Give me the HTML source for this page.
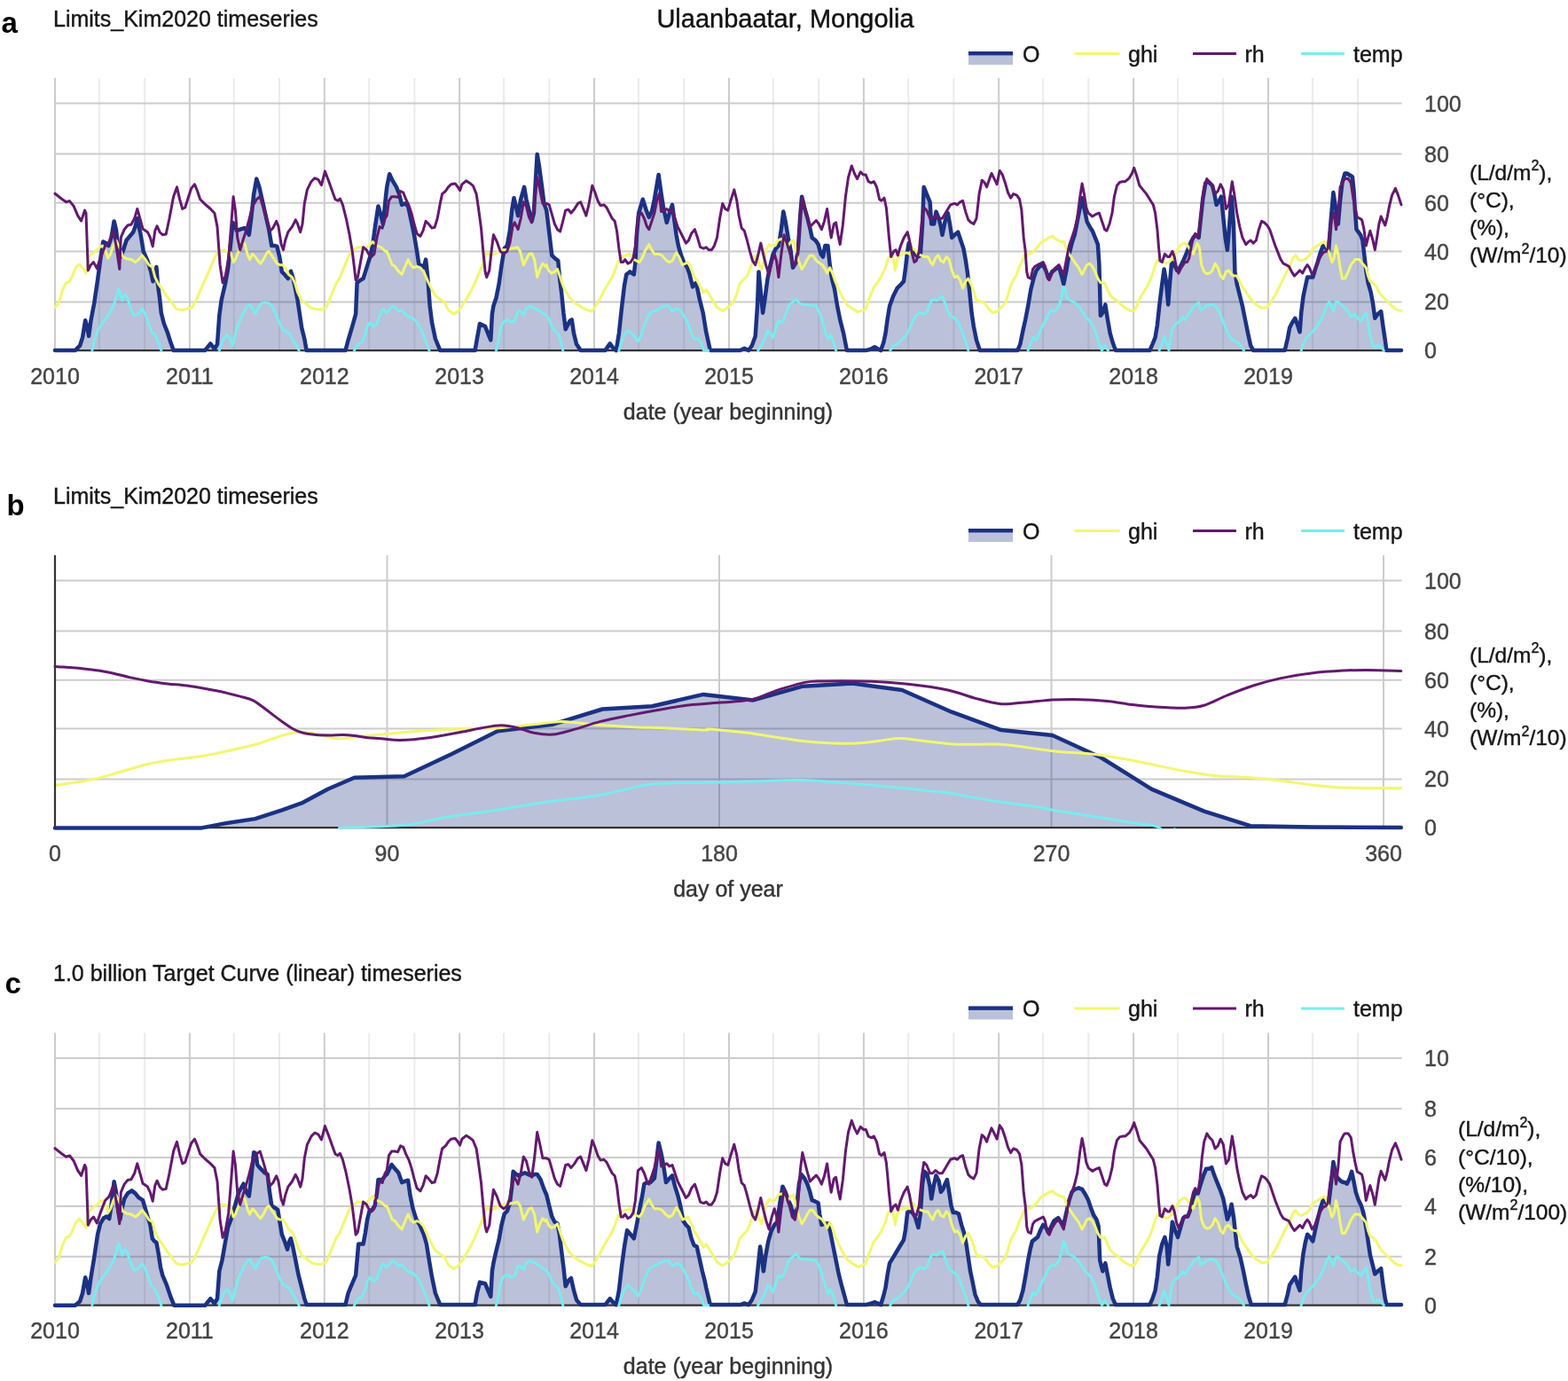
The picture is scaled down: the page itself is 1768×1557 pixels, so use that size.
<!DOCTYPE html><html><head><meta charset="utf-8"><style>html,body{margin:0;padding:0;background:#fff;overflow:hidden}svg{display:block}</style></head><body><svg width="1768" height="1557" viewBox="0 0 1768 1557" style="font-family:'Liberation Sans',Arial,sans-serif">
<rect width="1768" height="1557" fill="#fff"/>
<text x="885.5" y="31.0" font-size="29" text-anchor="middle" fill="#111" stroke="#111" stroke-width="0.4" font-weight="normal" >Ulaanbaatar, Mongolia</text>
<text x="1.5" y="36.7" font-size="33" text-anchor="start" fill="#000" stroke="#000" stroke-width="0" font-weight="bold" >a</text>
<text x="7.5" y="580.6" font-size="33" text-anchor="start" fill="#000" stroke="#000" stroke-width="0" font-weight="bold" >b</text>
<text x="5.5" y="1120.2" font-size="33" text-anchor="start" fill="#000" stroke="#000" stroke-width="0" font-weight="bold" >c</text>
<text x="60.0" y="29.5" font-size="25" text-anchor="start" fill="#161616" stroke="#161616" stroke-width="0.4" font-weight="normal" >Limits_Kim2020 timeseries</text>
<rect x="1092" y="62.5" width="50" height="10.5" fill="#1b3182" fill-opacity="0.3"/>
<rect x="1092" y="58" width="50" height="4.5" fill="#1b3182"/>
<text x="1153.0" y="69.5" font-size="25" text-anchor="start" fill="#161616" stroke="#161616" stroke-width="0.4" font-weight="normal" >O</text>
<line x1="1211.5" y1="60.5" x2="1262.5" y2="60.5" stroke="#f2f76e" stroke-width="3"/>
<text x="1272.0" y="69.5" font-size="25" text-anchor="start" fill="#161616" stroke="#161616" stroke-width="0.4" font-weight="normal" >ghi</text>
<line x1="1345" y1="60.5" x2="1394" y2="60.5" stroke="#63196e" stroke-width="3"/>
<text x="1403.5" y="69.5" font-size="25" text-anchor="start" fill="#161616" stroke="#161616" stroke-width="0.4" font-weight="normal" >rh</text>
<line x1="1467" y1="60.5" x2="1516" y2="60.5" stroke="#78ecf0" stroke-width="3"/>
<text x="1526.0" y="69.5" font-size="25" text-anchor="start" fill="#161616" stroke="#161616" stroke-width="0.4" font-weight="normal" >temp</text>
<line x1="111.9" y1="88" x2="111.9" y2="395.2" stroke="#ebebeb" stroke-width="2"/>
<line x1="163.1" y1="88" x2="163.1" y2="395.2" stroke="#ebebeb" stroke-width="2"/>
<line x1="263.8" y1="88" x2="263.8" y2="395.2" stroke="#ebebeb" stroke-width="2"/>
<line x1="315.0" y1="88" x2="315.0" y2="395.2" stroke="#ebebeb" stroke-width="2"/>
<line x1="416.2" y1="88" x2="416.2" y2="395.2" stroke="#ebebeb" stroke-width="2"/>
<line x1="467.4" y1="88" x2="467.4" y2="395.2" stroke="#ebebeb" stroke-width="2"/>
<line x1="568.1" y1="88" x2="568.1" y2="395.2" stroke="#ebebeb" stroke-width="2"/>
<line x1="619.3" y1="88" x2="619.3" y2="395.2" stroke="#ebebeb" stroke-width="2"/>
<line x1="720.0" y1="88" x2="720.0" y2="395.2" stroke="#ebebeb" stroke-width="2"/>
<line x1="771.2" y1="88" x2="771.2" y2="395.2" stroke="#ebebeb" stroke-width="2"/>
<line x1="871.9" y1="88" x2="871.9" y2="395.2" stroke="#ebebeb" stroke-width="2"/>
<line x1="923.1" y1="88" x2="923.1" y2="395.2" stroke="#ebebeb" stroke-width="2"/>
<line x1="1024.2" y1="88" x2="1024.2" y2="395.2" stroke="#ebebeb" stroke-width="2"/>
<line x1="1075.4" y1="88" x2="1075.4" y2="395.2" stroke="#ebebeb" stroke-width="2"/>
<line x1="1176.1" y1="88" x2="1176.1" y2="395.2" stroke="#ebebeb" stroke-width="2"/>
<line x1="1227.3" y1="88" x2="1227.3" y2="395.2" stroke="#ebebeb" stroke-width="2"/>
<line x1="1328.0" y1="88" x2="1328.0" y2="395.2" stroke="#ebebeb" stroke-width="2"/>
<line x1="1379.2" y1="88" x2="1379.2" y2="395.2" stroke="#ebebeb" stroke-width="2"/>
<line x1="1479.9" y1="88" x2="1479.9" y2="395.2" stroke="#ebebeb" stroke-width="2"/>
<line x1="1531.1" y1="88" x2="1531.1" y2="395.2" stroke="#ebebeb" stroke-width="2"/>
<line x1="62.0" y1="88" x2="62.0" y2="395.2" stroke="#cccccc" stroke-width="2"/>
<text x="62.0" y="433.0" font-size="25" text-anchor="middle" fill="#444444" stroke="#444444" stroke-width="0.4" font-weight="normal" >2010</text>
<line x1="213.9" y1="88" x2="213.9" y2="395.2" stroke="#cccccc" stroke-width="2"/>
<text x="213.9" y="433.0" font-size="25" text-anchor="middle" fill="#444444" stroke="#444444" stroke-width="0.4" font-weight="normal" >2011</text>
<line x1="365.8" y1="88" x2="365.8" y2="395.2" stroke="#cccccc" stroke-width="2"/>
<text x="365.8" y="433.0" font-size="25" text-anchor="middle" fill="#444444" stroke="#444444" stroke-width="0.4" font-weight="normal" >2012</text>
<line x1="518.1" y1="88" x2="518.1" y2="395.2" stroke="#cccccc" stroke-width="2"/>
<text x="518.1" y="433.0" font-size="25" text-anchor="middle" fill="#444444" stroke="#444444" stroke-width="0.4" font-weight="normal" >2013</text>
<line x1="670.0" y1="88" x2="670.0" y2="395.2" stroke="#cccccc" stroke-width="2"/>
<text x="670.0" y="433.0" font-size="25" text-anchor="middle" fill="#444444" stroke="#444444" stroke-width="0.4" font-weight="normal" >2014</text>
<line x1="822.0" y1="88" x2="822.0" y2="395.2" stroke="#cccccc" stroke-width="2"/>
<text x="822.0" y="433.0" font-size="25" text-anchor="middle" fill="#444444" stroke="#444444" stroke-width="0.4" font-weight="normal" >2015</text>
<line x1="973.9" y1="88" x2="973.9" y2="395.2" stroke="#cccccc" stroke-width="2"/>
<text x="973.9" y="433.0" font-size="25" text-anchor="middle" fill="#444444" stroke="#444444" stroke-width="0.4" font-weight="normal" >2016</text>
<line x1="1126.2" y1="88" x2="1126.2" y2="395.2" stroke="#cccccc" stroke-width="2"/>
<text x="1126.2" y="433.0" font-size="25" text-anchor="middle" fill="#444444" stroke="#444444" stroke-width="0.4" font-weight="normal" >2017</text>
<line x1="1278.1" y1="88" x2="1278.1" y2="395.2" stroke="#cccccc" stroke-width="2"/>
<text x="1278.1" y="433.0" font-size="25" text-anchor="middle" fill="#444444" stroke="#444444" stroke-width="0.4" font-weight="normal" >2018</text>
<line x1="1430.0" y1="88" x2="1430.0" y2="395.2" stroke="#cccccc" stroke-width="2"/>
<text x="1430.0" y="433.0" font-size="25" text-anchor="middle" fill="#444444" stroke="#444444" stroke-width="0.4" font-weight="normal" >2019</text>
<text x="1606.0" y="404.2" font-size="25" text-anchor="start" fill="#444444" stroke="#444444" stroke-width="0.4" font-weight="normal" >0</text>
<line x1="62.0" y1="340.4" x2="1580.5" y2="340.4" stroke="#cccccc" stroke-width="2"/>
<text x="1606.0" y="349.4" font-size="25" text-anchor="start" fill="#444444" stroke="#444444" stroke-width="0.4" font-weight="normal" >20</text>
<line x1="62.0" y1="283.5" x2="1580.5" y2="283.5" stroke="#cccccc" stroke-width="2"/>
<text x="1606.0" y="292.5" font-size="25" text-anchor="start" fill="#444444" stroke="#444444" stroke-width="0.4" font-weight="normal" >40</text>
<line x1="62.0" y1="228.7" x2="1580.5" y2="228.7" stroke="#cccccc" stroke-width="2"/>
<text x="1606.0" y="237.7" font-size="25" text-anchor="start" fill="#444444" stroke="#444444" stroke-width="0.4" font-weight="normal" >60</text>
<line x1="62.0" y1="173.6" x2="1580.5" y2="173.6" stroke="#cccccc" stroke-width="2"/>
<text x="1606.0" y="182.6" font-size="25" text-anchor="start" fill="#444444" stroke="#444444" stroke-width="0.4" font-weight="normal" >80</text>
<line x1="62.0" y1="116.6" x2="1580.5" y2="116.6" stroke="#cccccc" stroke-width="2"/>
<text x="1606.0" y="125.6" font-size="25" text-anchor="start" fill="#444444" stroke="#444444" stroke-width="0.4" font-weight="normal" >100</text>
<clipPath id="clip1"><rect x="0" y="0" width="1768" height="396.7"/></clipPath>
<path d="M62.0,395.2 L62.0,395.1 L84.7,395.1 L90.1,389.7 L93.1,380.4 L96.2,361.2 L98.2,368.1 L100.1,378.9 L102.4,361.9 L106.2,341.9 L110.1,315.7 L113.2,292.6 L116.3,272.5 L119.3,274.1 L122.4,277.1 L125.5,267.9 L128.6,249.4 L130.9,258.7 L133.7,283.3 L136.3,289.5 L138.6,283.3 L142.5,271.0 L146.3,266.4 L150.2,261.7 L152.5,255.6 L154.8,246.3 L158.7,264.8 L161.7,283.3 L166.4,294.1 L170.2,306.4 L172.5,317.2 L176.4,301.0 L177.9,320.3 L180.2,337.3 L181.8,352.7 L184.9,365.0 L188.7,374.3 L192.6,386.6 L195.6,395.1 L231.1,395.1 L237.3,387.4 L241.9,393.5 L245.0,388.1 L247.3,355.8 L249.6,338.8 L254.2,318.8 L257.0,303.4 L260.0,275.6 L262.4,250.9 L264.7,254.0 L267.0,260.2 L270.8,258.7 L275.5,257.1 L278.5,260.2 L280.8,264.8 L283.2,246.3 L286.2,218.6 L289.3,201.6 L292.4,210.9 L295.5,224.7 L299.3,241.7 L303.2,258.7 L306.3,277.1 L310.1,277.1 L312.4,277.9 L315.5,291.0 L317.8,306.4 L320.9,309.5 L324.8,314.1 L327.9,305.7 L330.2,312.6 L332.5,323.4 L335.6,338.8 L337.9,354.2 L340.2,369.6 L343.3,382.0 L345.6,395.1 L389.5,395.1 L392.6,383.5 L397.2,368.1 L401.1,354.2 L402.6,318.8 L406.5,315.7 L409.6,314.1 L413.4,301.8 L417.3,289.5 L420.3,275.6 L423.4,252.5 L426.5,232.4 L429.6,243.2 L431.9,252.5 L435.0,221.7 L436.2,210.9 L439.2,196.2 L442.3,203.2 L447.0,210.9 L450.0,218.6 L453.1,230.9 L457.0,229.4 L460.1,232.4 L463.1,246.3 L467.0,264.8 L470.1,283.3 L472.4,298.7 L475.5,299.5 L477.8,301.8 L480.1,292.6 L482.4,314.1 L484.7,345.0 L487.0,363.5 L490.9,382.0 L496.3,395.1 L535.6,395.1 L537.9,382.0 L541.0,365.0 L547.1,368.1 L550.2,375.8 L553.3,383.5 L554.9,354.2 L556.4,345.0 L559.5,335.7 L562.6,320.3 L565.6,298.7 L568.7,280.2 L571.8,277.1 L574.9,260.2 L577.2,237.1 L579.5,223.2 L581.8,232.4 L584.1,243.2 L587.2,224.7 L591.1,210.9 L593.4,224.7 L596.5,237.1 L599.6,249.4 L601.9,240.2 L604.2,198.5 L605.7,173.9 L608.0,187.7 L611.1,210.9 L613.4,229.4 L616.2,237.1 L619.2,261.7 L622.3,287.9 L625.4,291.0 L629.3,294.1 L630.8,311.1 L633.1,329.6 L635.4,352.7 L637.7,371.2 L642.4,361.9 L644.7,360.4 L647.0,375.8 L650.1,388.1 L654.7,395.1 L682.4,395.1 L687.8,387.4 L691.7,392.8 L694.8,395.1 L697.9,375.8 L700.9,348.1 L704.0,321.8 L706.3,309.5 L710.2,306.4 L714.8,309.5 L716.4,295.6 L717.9,264.8 L720.2,240.2 L724.8,224.7 L728.7,237.1 L731.8,244.8 L734.9,238.6 L737.9,224.7 L742.6,197.0 L745.6,218.6 L748.0,234.0 L751.8,250.9 L754.9,240.2 L758.0,230.9 L760.3,247.9 L762.6,264.8 L764.9,277.1 L768.0,287.9 L771.1,295.6 L774.9,301.8 L777.2,308.0 L781.1,323.4 L785.0,318.8 L788.8,337.3 L792.7,352.7 L796.2,374.3 L800.8,395.1 L834.7,395.1 L839.3,392.8 L843.9,395.1 L847.8,389.7 L851.7,378.9 L854.0,345.0 L855.5,306.4 L857.8,329.6 L860.1,352.7 L862.4,337.3 L865.5,314.1 L868.6,298.7 L871.7,286.4 L874.8,280.2 L877.9,277.1 L880.9,258.7 L883.3,238.6 L885.6,249.4 L888.7,267.9 L891.7,283.3 L894.0,301.8 L897.9,295.6 L900.2,275.6 L902.5,240.2 L904.1,221.7 L907.1,234.0 L910.2,244.8 L913.3,257.1 L915.6,267.9 L919.5,271.0 L922.6,275.6 L925.6,286.4 L928.0,289.5 L930.3,277.1 L933.4,277.1 L935.7,298.7 L938.0,314.1 L941.1,326.5 L944.1,345.0 L947.2,360.4 L951.1,375.8 L954.9,395.1 L976.2,395.1 L982.3,393.5 L986.2,391.2 L990.0,393.5 L993.1,395.1 L996.2,386.6 L998.5,375.8 L1000.8,358.8 L1003.1,345.0 L1007.0,334.2 L1011.6,324.9 L1016.2,320.3 L1019.0,317.2 L1020.9,303.4 L1023.2,283.3 L1024.7,274.1 L1027.0,280.2 L1030.1,284.9 L1034.7,289.5 L1037.8,287.9 L1040.1,252.5 L1041.7,210.9 L1044.8,218.6 L1048.6,227.8 L1050.2,252.5 L1053.2,252.5 L1055.5,238.6 L1058.6,246.3 L1060.9,255.6 L1062.5,264.8 L1065.6,249.4 L1068.7,240.2 L1071.0,252.5 L1073.3,267.9 L1076.4,264.8 L1080.2,261.7 L1083.3,271.0 L1086.4,280.2 L1088.7,292.6 L1091.0,308.0 L1093.3,329.6 L1095.6,352.7 L1097.9,368.1 L1101.0,383.5 L1104.9,395.1 L1147.3,395.1 L1150.3,388.1 L1153.4,372.7 L1156.2,360.4 L1159.2,345.0 L1162.3,326.5 L1165.4,314.1 L1168.5,304.9 L1172.4,300.3 L1176.2,298.7 L1179.3,304.9 L1182.4,314.1 L1186.2,306.4 L1190.1,303.4 L1193.9,300.3 L1196.2,308.0 L1199.3,320.3 L1202.4,304.9 L1205.5,286.4 L1208.6,274.1 L1211.7,264.8 L1214.7,249.4 L1217.8,234.0 L1220.1,223.2 L1222.4,234.0 L1225.5,249.4 L1228.6,255.6 L1231.7,260.2 L1234.8,267.9 L1237.9,275.6 L1239.4,298.7 L1240.9,355.8 L1243.3,352.7 L1246.3,343.4 L1248.7,358.8 L1251.7,375.8 L1254.8,386.6 L1257.9,395.1 L1296.4,395.1 L1299.5,388.1 L1302.6,380.4 L1304.9,366.6 L1307.2,345.0 L1310.3,320.3 L1312.6,303.4 L1314.9,317.2 L1317.2,343.4 L1318.8,321.8 L1321.1,295.6 L1324.2,298.7 L1327.3,304.9 L1330.3,301.8 L1333.4,295.6 L1336.2,289.5 L1339.2,281.8 L1342.3,274.1 L1345.4,267.9 L1348.5,264.8 L1351.6,267.9 L1353.9,246.3 L1356.2,224.7 L1359.3,206.2 L1362.4,204.7 L1367.0,209.3 L1369.3,218.6 L1371.6,230.9 L1374.7,226.3 L1377.0,221.7 L1379.3,244.8 L1381.6,267.9 L1383.9,281.8 L1386.3,252.5 L1388.6,221.7 L1390.9,252.5 L1392.4,306.4 L1394.7,320.3 L1397.8,332.6 L1400.9,345.0 L1404.0,360.4 L1407.1,375.8 L1410.2,389.7 L1413.2,395.1 L1448.7,395.1 L1451.8,382.0 L1454.1,369.6 L1457.2,363.5 L1460.3,358.8 L1462.6,365.0 L1465.6,374.3 L1467.2,352.7 L1469.5,334.2 L1471.8,323.4 L1474.1,312.6 L1477.2,312.6 L1480.3,312.6 L1482.6,304.9 L1485.7,295.6 L1488.8,284.9 L1491.8,277.1 L1495.7,280.2 L1498.0,283.3 L1500.3,252.5 L1503.4,217.0 L1506.5,237.1 L1508.8,252.5 L1511.1,226.3 L1513.4,206.2 L1516.4,195.5 L1518.7,195.5 L1524.9,199.3 L1526.4,213.9 L1527.9,237.1 L1529.5,258.7 L1534.1,264.8 L1536.4,271.0 L1538.7,291.0 L1540.3,304.9 L1542.6,318.8 L1545.7,329.6 L1548.0,341.9 L1550.3,358.8 L1553.4,354.2 L1557.2,351.1 L1559.5,368.1 L1561.8,383.5 L1563.4,395.1 L1580.0,395.1 L1580.0,395.2 Z" fill="#1b3182" fill-opacity="0.3" stroke="none"/>
<line x1="62.0" y1="395.2" x2="1580.5" y2="395.2" stroke="#333" stroke-width="2.2"/>
<path d="M62.0,395.1 L84.7,395.1 L90.1,389.7 L93.1,380.4 L96.2,361.2 L98.2,368.1 L100.1,378.9 L102.4,361.9 L106.2,341.9 L110.1,315.7 L113.2,292.6 L116.3,272.5 L119.3,274.1 L122.4,277.1 L125.5,267.9 L128.6,249.4 L130.9,258.7 L133.7,283.3 L136.3,289.5 L138.6,283.3 L142.5,271.0 L146.3,266.4 L150.2,261.7 L152.5,255.6 L154.8,246.3 L158.7,264.8 L161.7,283.3 L166.4,294.1 L170.2,306.4 L172.5,317.2 L176.4,301.0 L177.9,320.3 L180.2,337.3 L181.8,352.7 L184.9,365.0 L188.7,374.3 L192.6,386.6 L195.6,395.1 L231.1,395.1 L237.3,387.4 L241.9,393.5 L245.0,388.1 L247.3,355.8 L249.6,338.8 L254.2,318.8 L257.0,303.4 L260.0,275.6 L262.4,250.9 L264.7,254.0 L267.0,260.2 L270.8,258.7 L275.5,257.1 L278.5,260.2 L280.8,264.8 L283.2,246.3 L286.2,218.6 L289.3,201.6 L292.4,210.9 L295.5,224.7 L299.3,241.7 L303.2,258.7 L306.3,277.1 L310.1,277.1 L312.4,277.9 L315.5,291.0 L317.8,306.4 L320.9,309.5 L324.8,314.1 L327.9,305.7 L330.2,312.6 L332.5,323.4 L335.6,338.8 L337.9,354.2 L340.2,369.6 L343.3,382.0 L345.6,395.1 L389.5,395.1 L392.6,383.5 L397.2,368.1 L401.1,354.2 L402.6,318.8 L406.5,315.7 L409.6,314.1 L413.4,301.8 L417.3,289.5 L420.3,275.6 L423.4,252.5 L426.5,232.4 L429.6,243.2 L431.9,252.5 L435.0,221.7 L436.2,210.9 L439.2,196.2 L442.3,203.2 L447.0,210.9 L450.0,218.6 L453.1,230.9 L457.0,229.4 L460.1,232.4 L463.1,246.3 L467.0,264.8 L470.1,283.3 L472.4,298.7 L475.5,299.5 L477.8,301.8 L480.1,292.6 L482.4,314.1 L484.7,345.0 L487.0,363.5 L490.9,382.0 L496.3,395.1 L535.6,395.1 L537.9,382.0 L541.0,365.0 L547.1,368.1 L550.2,375.8 L553.3,383.5 L554.9,354.2 L556.4,345.0 L559.5,335.7 L562.6,320.3 L565.6,298.7 L568.7,280.2 L571.8,277.1 L574.9,260.2 L577.2,237.1 L579.5,223.2 L581.8,232.4 L584.1,243.2 L587.2,224.7 L591.1,210.9 L593.4,224.7 L596.5,237.1 L599.6,249.4 L601.9,240.2 L604.2,198.5 L605.7,173.9 L608.0,187.7 L611.1,210.9 L613.4,229.4 L616.2,237.1 L619.2,261.7 L622.3,287.9 L625.4,291.0 L629.3,294.1 L630.8,311.1 L633.1,329.6 L635.4,352.7 L637.7,371.2 L642.4,361.9 L644.7,360.4 L647.0,375.8 L650.1,388.1 L654.7,395.1 L682.4,395.1 L687.8,387.4 L691.7,392.8 L694.8,395.1 L697.9,375.8 L700.9,348.1 L704.0,321.8 L706.3,309.5 L710.2,306.4 L714.8,309.5 L716.4,295.6 L717.9,264.8 L720.2,240.2 L724.8,224.7 L728.7,237.1 L731.8,244.8 L734.9,238.6 L737.9,224.7 L742.6,197.0 L745.6,218.6 L748.0,234.0 L751.8,250.9 L754.9,240.2 L758.0,230.9 L760.3,247.9 L762.6,264.8 L764.9,277.1 L768.0,287.9 L771.1,295.6 L774.9,301.8 L777.2,308.0 L781.1,323.4 L785.0,318.8 L788.8,337.3 L792.7,352.7 L796.2,374.3 L800.8,395.1 L834.7,395.1 L839.3,392.8 L843.9,395.1 L847.8,389.7 L851.7,378.9 L854.0,345.0 L855.5,306.4 L857.8,329.6 L860.1,352.7 L862.4,337.3 L865.5,314.1 L868.6,298.7 L871.7,286.4 L874.8,280.2 L877.9,277.1 L880.9,258.7 L883.3,238.6 L885.6,249.4 L888.7,267.9 L891.7,283.3 L894.0,301.8 L897.9,295.6 L900.2,275.6 L902.5,240.2 L904.1,221.7 L907.1,234.0 L910.2,244.8 L913.3,257.1 L915.6,267.9 L919.5,271.0 L922.6,275.6 L925.6,286.4 L928.0,289.5 L930.3,277.1 L933.4,277.1 L935.7,298.7 L938.0,314.1 L941.1,326.5 L944.1,345.0 L947.2,360.4 L951.1,375.8 L954.9,395.1 L976.2,395.1 L982.3,393.5 L986.2,391.2 L990.0,393.5 L993.1,395.1 L996.2,386.6 L998.5,375.8 L1000.8,358.8 L1003.1,345.0 L1007.0,334.2 L1011.6,324.9 L1016.2,320.3 L1019.0,317.2 L1020.9,303.4 L1023.2,283.3 L1024.7,274.1 L1027.0,280.2 L1030.1,284.9 L1034.7,289.5 L1037.8,287.9 L1040.1,252.5 L1041.7,210.9 L1044.8,218.6 L1048.6,227.8 L1050.2,252.5 L1053.2,252.5 L1055.5,238.6 L1058.6,246.3 L1060.9,255.6 L1062.5,264.8 L1065.6,249.4 L1068.7,240.2 L1071.0,252.5 L1073.3,267.9 L1076.4,264.8 L1080.2,261.7 L1083.3,271.0 L1086.4,280.2 L1088.7,292.6 L1091.0,308.0 L1093.3,329.6 L1095.6,352.7 L1097.9,368.1 L1101.0,383.5 L1104.9,395.1 L1147.3,395.1 L1150.3,388.1 L1153.4,372.7 L1156.2,360.4 L1159.2,345.0 L1162.3,326.5 L1165.4,314.1 L1168.5,304.9 L1172.4,300.3 L1176.2,298.7 L1179.3,304.9 L1182.4,314.1 L1186.2,306.4 L1190.1,303.4 L1193.9,300.3 L1196.2,308.0 L1199.3,320.3 L1202.4,304.9 L1205.5,286.4 L1208.6,274.1 L1211.7,264.8 L1214.7,249.4 L1217.8,234.0 L1220.1,223.2 L1222.4,234.0 L1225.5,249.4 L1228.6,255.6 L1231.7,260.2 L1234.8,267.9 L1237.9,275.6 L1239.4,298.7 L1240.9,355.8 L1243.3,352.7 L1246.3,343.4 L1248.7,358.8 L1251.7,375.8 L1254.8,386.6 L1257.9,395.1 L1296.4,395.1 L1299.5,388.1 L1302.6,380.4 L1304.9,366.6 L1307.2,345.0 L1310.3,320.3 L1312.6,303.4 L1314.9,317.2 L1317.2,343.4 L1318.8,321.8 L1321.1,295.6 L1324.2,298.7 L1327.3,304.9 L1330.3,301.8 L1333.4,295.6 L1336.2,289.5 L1339.2,281.8 L1342.3,274.1 L1345.4,267.9 L1348.5,264.8 L1351.6,267.9 L1353.9,246.3 L1356.2,224.7 L1359.3,206.2 L1362.4,204.7 L1367.0,209.3 L1369.3,218.6 L1371.6,230.9 L1374.7,226.3 L1377.0,221.7 L1379.3,244.8 L1381.6,267.9 L1383.9,281.8 L1386.3,252.5 L1388.6,221.7 L1390.9,252.5 L1392.4,306.4 L1394.7,320.3 L1397.8,332.6 L1400.9,345.0 L1404.0,360.4 L1407.1,375.8 L1410.2,389.7 L1413.2,395.1 L1448.7,395.1 L1451.8,382.0 L1454.1,369.6 L1457.2,363.5 L1460.3,358.8 L1462.6,365.0 L1465.6,374.3 L1467.2,352.7 L1469.5,334.2 L1471.8,323.4 L1474.1,312.6 L1477.2,312.6 L1480.3,312.6 L1482.6,304.9 L1485.7,295.6 L1488.8,284.9 L1491.8,277.1 L1495.7,280.2 L1498.0,283.3 L1500.3,252.5 L1503.4,217.0 L1506.5,237.1 L1508.8,252.5 L1511.1,226.3 L1513.4,206.2 L1516.4,195.5 L1518.7,195.5 L1524.9,199.3 L1526.4,213.9 L1527.9,237.1 L1529.5,258.7 L1534.1,264.8 L1536.4,271.0 L1538.7,291.0 L1540.3,304.9 L1542.6,318.8 L1545.7,329.6 L1548.0,341.9 L1550.3,358.8 L1553.4,354.2 L1557.2,351.1 L1559.5,368.1 L1561.8,383.5 L1563.4,395.1 L1580.0,395.1" fill="none" stroke="#1b3182" stroke-width="4.5" stroke-linejoin="round" stroke-linecap="round"/>
<path d="M62.0,346.5 L66.2,341.9 L70.8,326.5 L74.6,318.8 L78.5,317.2 L81.6,311.1 L85.4,301.8 L89.3,298.0 L93.1,301.8 L97.0,308.0 L100.1,289.5 L103.2,286.4 L107.8,283.3 L112.4,278.7 L115.5,277.1 L119.3,283.3 L121.7,291.0 L124.7,286.4 L127.8,277.1 L130.9,271.0 L134.0,277.1 L138.6,289.5 L143.2,291.8 L147.9,292.6 L152.5,295.6 L156.3,292.6 L160.2,287.9 L164.0,292.6 L167.9,298.7 L171.8,301.0 L174.8,312.6 L178.7,320.3 L183.3,326.5 L187.9,334.2 L194.1,341.9 L198.7,348.1 L204.9,349.6 L211.1,348.1 L215.7,347.3 L220.3,340.3 L224.9,329.6 L231.1,315.7 L237.3,301.8 L241.9,291.0 L246.5,283.3 L252.7,281.8 L260.0,284.9 L263.1,295.6 L265.4,292.6 L267.7,286.4 L270.8,280.2 L273.1,272.5 L276.2,275.6 L279.3,287.9 L281.6,292.6 L284.7,286.4 L287.8,289.5 L290.9,294.1 L293.9,297.2 L297.0,292.6 L300.9,284.9 L303.2,283.3 L306.3,287.9 L309.4,292.6 L312.4,297.2 L315.5,298.7 L318.6,298.7 L321.7,301.8 L325.5,309.5 L329.4,312.6 L332.5,318.8 L335.6,329.6 L340.2,338.8 L346.4,343.4 L351.0,347.3 L357.1,348.8 L363.3,348.8 L367.9,346.5 L371.8,337.3 L375.6,328.0 L378.7,320.3 L383.4,312.6 L386.4,304.9 L390.3,295.6 L394.1,286.4 L398.8,281.8 L403.4,278.7 L408.0,278.7 L411.1,281.8 L415.7,277.1 L420.3,272.5 L425.0,277.1 L429.6,278.7 L434.2,283.3 L436.2,283.3 L439.2,291.0 L442.3,298.7 L445.4,300.3 L448.5,304.9 L453.1,309.5 L456.2,301.8 L460.1,292.6 L463.1,298.7 L466.2,301.8 L470.1,300.3 L473.9,301.8 L477.8,306.4 L482.4,317.2 L485.5,323.4 L490.1,332.6 L494.7,336.5 L500.9,340.3 L505.5,349.6 L511.7,354.2 L516.3,351.1 L520.9,345.0 L525.6,337.3 L530.2,329.6 L534.8,320.3 L539.4,309.5 L544.1,298.7 L548.7,284.9 L553.3,287.9 L557.9,286.4 L562.6,283.3 L567.2,281.8 L571.8,281.8 L576.4,280.2 L580.3,279.5 L583.4,278.7 L586.5,283.3 L590.3,298.7 L593.4,292.6 L596.5,286.4 L599.6,285.6 L602.6,292.6 L605.7,312.6 L608.8,303.4 L611.9,297.2 L615.0,300.3 L616.2,298.7 L618.5,304.9 L621.6,308.0 L625.4,306.4 L628.5,303.4 L631.6,312.6 L634.7,321.8 L637.7,328.0 L642.4,335.7 L648.5,341.9 L656.2,346.5 L662.4,349.6 L667.0,351.1 L671.7,345.0 L676.3,337.3 L680.9,328.0 L685.5,320.3 L690.2,312.6 L694.0,303.4 L697.1,294.1 L700.9,289.5 L705.6,287.9 L710.2,286.4 L714.8,292.6 L717.9,294.1 L721.0,295.6 L724.1,291.0 L727.1,283.3 L731.8,275.6 L734.9,281.8 L737.9,286.4 L742.6,286.4 L746.4,287.9 L750.3,292.6 L754.1,295.6 L758.0,294.1 L762.6,284.9 L765.7,289.5 L769.5,298.7 L772.6,297.2 L775.7,295.6 L779.6,303.4 L783.4,312.6 L786.5,317.2 L789.6,323.4 L793.4,329.6 L796.2,326.5 L799.2,331.1 L803.9,338.8 L808.5,346.5 L814.7,350.4 L820.8,346.5 L827.0,340.3 L830.8,331.1 L833.9,320.3 L837.8,315.7 L842.4,311.1 L846.3,301.8 L850.1,289.5 L853.2,287.9 L856.3,298.7 L858.6,303.4 L860.9,295.6 L864.0,281.8 L867.1,275.6 L870.2,277.1 L874.0,277.1 L877.1,271.0 L880.9,269.4 L884.8,272.5 L888.7,277.1 L891.7,272.5 L894.8,271.0 L897.9,284.9 L901.0,295.6 L904.1,303.4 L907.1,298.7 L910.2,292.6 L913.3,287.9 L916.4,287.9 L919.5,292.6 L922.6,295.6 L927.2,298.7 L930.3,303.4 L932.6,308.0 L935.7,301.8 L938.7,308.0 L941.8,317.2 L945.7,326.5 L950.3,335.7 L954.9,343.4 L961.1,348.1 L967.3,351.9 L973.4,349.6 L976.2,348.1 L979.2,338.8 L982.3,331.1 L985.4,323.4 L989.3,318.8 L993.1,312.6 L996.2,306.4 L998.5,301.8 L1000.8,292.6 L1003.9,287.9 L1007.0,289.5 L1009.3,304.9 L1011.6,292.6 L1014.7,287.9 L1017.8,286.4 L1022.4,284.9 L1025.5,286.4 L1028.6,280.2 L1031.7,281.8 L1034.7,286.4 L1038.6,287.9 L1042.4,289.5 L1046.3,289.5 L1049.4,295.6 L1051.7,298.7 L1054.8,291.0 L1057.9,287.9 L1060.9,294.1 L1064.0,295.6 L1067.1,289.5 L1070.2,292.6 L1073.3,304.9 L1076.4,312.6 L1079.4,311.1 L1082.5,315.7 L1085.6,324.9 L1088.7,317.2 L1091.8,314.1 L1094.9,320.3 L1097.9,328.0 L1101.0,338.8 L1105.6,339.6 L1110.3,341.9 L1114.9,348.1 L1119.5,352.7 L1124.1,351.1 L1128.8,346.5 L1133.4,341.9 L1136.5,332.6 L1139.6,321.8 L1142.6,315.7 L1145.7,311.1 L1148.8,301.8 L1151.9,295.6 L1155.0,287.9 L1156.2,291.0 L1159.2,286.4 L1163.9,284.9 L1168.5,280.2 L1173.1,274.1 L1177.7,271.0 L1182.4,267.9 L1187.0,266.4 L1190.1,269.4 L1193.2,271.0 L1196.2,272.5 L1199.3,272.5 L1202.4,280.2 L1205.5,286.4 L1208.6,291.0 L1211.7,295.6 L1216.3,301.8 L1220.1,309.5 L1222.4,304.9 L1225.5,298.7 L1228.6,297.2 L1231.7,300.3 L1234.8,306.4 L1237.9,314.1 L1240.9,318.8 L1245.6,318.8 L1248.7,326.5 L1251.7,332.6 L1256.4,337.3 L1261.0,340.3 L1265.6,345.0 L1270.2,348.1 L1274.9,350.4 L1279.5,349.6 L1282.6,343.4 L1285.6,335.7 L1290.3,328.0 L1294.9,320.3 L1299.5,309.5 L1302.6,298.7 L1305.7,292.6 L1308.8,294.1 L1311.8,295.6 L1314.9,297.2 L1318.0,295.6 L1321.1,292.6 L1324.2,287.9 L1327.3,281.8 L1330.3,277.1 L1335.0,274.1 L1336.2,274.1 L1339.2,277.1 L1342.3,281.8 L1345.4,286.4 L1347.7,280.2 L1350.0,274.1 L1352.4,278.7 L1354.7,298.7 L1357.7,306.4 L1360.8,308.7 L1363.9,308.0 L1367.0,304.9 L1370.1,297.2 L1373.2,301.8 L1376.2,311.1 L1379.3,314.1 L1382.4,306.4 L1385.5,304.9 L1388.6,309.5 L1391.7,311.1 L1394.7,311.1 L1397.8,317.2 L1400.9,323.4 L1404.0,328.0 L1407.1,332.6 L1411.7,338.8 L1416.3,343.4 L1422.5,347.3 L1428.7,346.5 L1433.3,340.3 L1437.9,332.6 L1442.5,323.4 L1447.1,314.1 L1451.8,304.9 L1454.9,298.7 L1457.9,291.0 L1461.0,287.9 L1464.1,292.6 L1467.2,294.1 L1470.3,292.6 L1473.4,291.0 L1476.4,287.9 L1479.5,281.8 L1482.6,278.7 L1485.7,277.1 L1490.3,274.1 L1493.4,272.5 L1496.5,278.7 L1499.6,287.9 L1501.9,295.6 L1504.2,291.0 L1506.5,277.1 L1508.8,286.4 L1511.1,301.8 L1513.4,314.1 L1516.4,314.1 L1519.5,308.0 L1523.3,298.7 L1527.9,292.6 L1532.6,292.6 L1536.4,297.2 L1540.3,301.8 L1542.6,311.1 L1544.9,317.2 L1548.0,318.8 L1551.1,321.8 L1554.1,328.0 L1557.2,332.6 L1561.8,337.3 L1566.5,341.9 L1571.1,346.5 L1575.7,349.6 L1580.0,350.4" fill="none" stroke="#f2f76e" stroke-width="3" stroke-linejoin="round" stroke-linecap="round"/>
<path d="M62.0,218.3 L69.2,224.0 L74.6,227.8 L78.5,226.6 L83.1,232.4 L87.7,243.2 L91.6,249.1 L95.5,237.1 L97.0,240.2 L99.3,304.9 L102.4,298.7 L105.5,295.6 L109.3,302.6 L113.2,291.0 L118.6,277.1 L123.2,272.5 L127.8,260.2 L130.9,277.1 L134.8,303.4 L136.3,267.9 L140.2,258.7 L144.0,254.0 L147.9,253.3 L151.7,246.3 L154.8,235.5 L158.7,249.4 L161.0,257.9 L166.4,261.7 L169.4,267.9 L172.2,277.9 L174.8,260.2 L177.1,254.8 L180.2,261.7 L183.3,264.8 L187.2,264.0 L191.0,246.3 L195.6,221.7 L199.5,210.9 L202.6,224.7 L205.7,235.5 L208.7,234.0 L212.6,221.7 L215.7,212.4 L219.5,207.8 L222.6,215.5 L225.7,224.7 L231.1,230.1 L237.3,235.5 L241.9,240.2 L245.0,255.6 L248.1,298.7 L251.1,318.8 L254.2,311.1 L257.7,291.0 L260.8,252.5 L263.1,221.7 L265.4,237.1 L267.7,267.9 L270.8,281.8 L273.9,271.0 L277.0,261.7 L280.8,247.9 L284.7,232.4 L289.3,224.7 L293.2,221.7 L297.0,234.0 L300.9,247.9 L304.7,260.2 L307.8,257.1 L311.7,249.4 L314.0,255.6 L317.1,275.6 L319.4,281.8 L321.7,271.0 L324.8,261.7 L329.4,255.6 L333.3,247.9 L335.6,252.5 L338.7,261.7 L341.0,252.5 L343.3,229.4 L346.4,213.9 L351.0,204.7 L354.8,200.8 L358.7,202.4 L362.5,208.6 L366.4,193.1 L370.3,203.2 L374.1,213.9 L378.0,224.7 L381.0,226.3 L383.4,224.0 L386.4,230.9 L390.3,246.3 L394.1,264.8 L397.2,283.3 L399.5,301.8 L401.1,315.7 L403.4,312.6 L406.5,295.6 L409.6,278.7 L413.4,281.8 L415.7,286.4 L418.8,289.5 L421.9,286.4 L425.0,267.9 L428.1,255.6 L431.1,257.1 L434.2,246.3 L436.2,243.2 L438.5,226.3 L441.6,221.7 L445.4,221.7 L448.5,222.4 L451.6,215.5 L454.7,217.0 L457.7,224.7 L460.8,230.9 L463.9,240.2 L467.0,252.5 L470.1,263.3 L473.9,266.4 L477.0,260.2 L480.1,249.4 L483.2,252.5 L487.0,257.1 L490.1,256.3 L493.2,246.3 L496.3,229.4 L498.6,218.6 L502.4,215.5 L505.5,210.9 L508.6,207.8 L513.2,207.0 L516.3,210.9 L518.6,214.7 L520.9,207.8 L525.6,203.9 L529.4,206.2 L533.3,209.3 L537.1,218.6 L539.4,234.0 L542.5,257.1 L544.8,283.3 L547.1,306.4 L548.7,312.6 L551.8,304.9 L554.1,283.3 L556.4,264.8 L560.3,272.5 L564.1,283.3 L568.0,286.4 L571.8,283.3 L574.9,274.1 L578.0,255.6 L580.3,250.9 L584.1,258.7 L587.2,246.3 L590.3,227.8 L593.4,232.4 L596.5,244.8 L599.6,250.9 L602.6,229.4 L605.7,200.1 L608.8,213.9 L611.9,229.4 L616.2,229.4 L619.2,230.9 L622.3,241.7 L625.4,252.5 L628.5,258.7 L631.6,261.0 L634.7,249.4 L637.7,237.1 L640.8,236.3 L643.9,240.2 L647.8,235.5 L651.6,229.4 L654.7,227.8 L657.8,235.5 L660.9,243.2 L663.9,230.9 L667.8,209.3 L670.9,217.0 L674.0,226.3 L677.1,231.7 L680.9,230.9 L684.0,234.0 L687.1,240.2 L690.2,246.3 L693.2,249.4 L695.5,260.2 L697.9,280.2 L700.2,295.6 L702.5,295.6 L704.8,292.6 L707.9,297.2 L711.0,295.6 L714.0,291.0 L716.4,277.1 L719.4,243.2 L723.3,240.2 L726.4,246.3 L729.5,255.6 L731.8,258.7 L734.9,249.4 L737.9,240.2 L741.0,224.7 L743.3,218.6 L745.6,238.6 L748.7,237.1 L751.8,235.5 L754.9,238.6 L758.0,237.1 L761.1,246.3 L764.1,255.6 L768.8,264.8 L773.4,274.1 L776.5,271.0 L779.6,263.3 L783.4,258.7 L786.5,267.9 L789.6,278.7 L793.4,280.2 L796.2,278.7 L799.2,281.8 L802.3,281.8 L805.4,277.1 L808.5,267.9 L811.6,246.3 L814.7,229.4 L817.7,235.5 L820.8,237.1 L823.9,226.3 L827.8,213.9 L830.8,226.3 L833.2,243.2 L836.2,257.1 L839.3,260.2 L842.4,271.0 L845.5,283.3 L848.6,294.1 L851.7,298.7 L854.7,287.9 L857.8,274.1 L860.9,287.9 L864.0,300.3 L867.1,309.5 L870.2,295.6 L873.2,286.4 L875.5,294.1 L877.9,312.6 L880.9,286.4 L884.0,264.8 L887.1,274.1 L890.2,283.3 L893.3,295.6 L896.4,298.7 L899.4,283.3 L902.5,241.7 L904.8,223.2 L907.1,232.4 L910.2,244.8 L913.3,255.6 L916.4,252.5 L920.3,248.6 L923.3,252.5 L926.4,258.7 L929.5,249.4 L932.6,235.5 L935.7,258.7 L937.2,267.9 L940.3,252.5 L942.6,250.9 L944.9,264.8 L947.2,275.6 L950.3,254.0 L953.4,221.7 L956.5,200.1 L960.3,187.0 L963.4,195.5 L966.5,201.6 L970.3,193.9 L973.4,197.0 L976.2,197.0 L979.2,204.7 L982.3,206.2 L985.4,204.7 L988.5,210.9 L991.6,224.7 L993.9,226.3 L997.0,223.2 L999.3,234.0 L1000.8,249.4 L1002.4,267.9 L1004.7,289.5 L1007.8,283.3 L1010.1,281.8 L1012.4,287.9 L1015.5,277.1 L1019.3,267.9 L1023.2,261.7 L1025.5,271.0 L1027.8,283.3 L1030.9,295.6 L1033.2,294.1 L1036.3,283.3 L1039.4,249.4 L1041.7,234.0 L1044.8,237.1 L1048.6,246.3 L1051.7,246.3 L1054.8,243.2 L1058.6,246.3 L1062.5,246.3 L1067.1,238.6 L1071.7,230.9 L1076.4,229.4 L1079.4,230.9 L1082.5,227.8 L1085.6,226.3 L1088.7,238.6 L1091.8,247.9 L1094.9,250.9 L1097.9,252.5 L1101.0,246.3 L1104.1,218.6 L1107.2,203.2 L1110.3,206.2 L1112.6,210.9 L1115.7,201.6 L1118.0,195.5 L1121.1,201.6 L1124.1,207.8 L1127.2,192.4 L1130.3,197.0 L1133.4,206.2 L1136.5,217.0 L1139.6,223.2 L1142.6,218.6 L1146.5,220.1 L1149.6,224.7 L1151.9,237.1 L1154.2,267.9 L1156.2,283.3 L1157.7,306.4 L1159.2,312.6 L1162.3,314.1 L1164.6,303.4 L1167.0,300.3 L1170.0,298.7 L1173.1,297.2 L1176.2,295.6 L1178.5,300.3 L1180.8,312.6 L1183.1,315.7 L1186.2,308.0 L1190.1,301.8 L1193.9,298.7 L1197.0,304.9 L1199.3,309.5 L1202.4,292.6 L1205.5,277.1 L1208.6,267.9 L1211.7,258.7 L1214.7,246.3 L1217.8,221.7 L1220.1,207.0 L1222.4,218.6 L1224.8,234.0 L1227.1,240.2 L1231.7,244.0 L1235.5,241.7 L1239.4,240.2 L1242.5,249.4 L1245.6,258.7 L1247.9,260.2 L1251.0,252.5 L1254.0,240.2 L1256.4,221.7 L1259.4,209.3 L1262.5,205.5 L1265.6,204.7 L1268.7,204.7 L1273.3,200.8 L1276.4,195.5 L1278.7,189.3 L1281.8,198.5 L1284.9,209.3 L1288.7,213.9 L1292.6,218.6 L1296.4,224.7 L1300.3,230.9 L1302.6,240.2 L1304.9,258.7 L1306.5,278.7 L1308.0,294.1 L1310.3,295.6 L1313.4,286.4 L1316.5,289.5 L1318.8,289.5 L1321.9,283.3 L1324.2,289.5 L1326.5,301.8 L1328.8,308.0 L1331.9,301.8 L1335.0,297.2 L1336.2,295.6 L1338.5,295.6 L1340.8,291.0 L1343.1,278.7 L1345.4,267.9 L1347.7,263.3 L1350.8,267.9 L1353.1,252.5 L1355.4,227.8 L1357.7,210.9 L1360.8,201.6 L1363.9,206.2 L1367.0,209.3 L1370.1,218.6 L1373.2,215.5 L1376.2,207.8 L1379.3,213.9 L1382.4,235.5 L1385.5,230.9 L1389.3,204.7 L1391.7,218.6 L1394.7,240.2 L1397.8,255.6 L1400.9,267.9 L1404.8,275.6 L1407.8,272.5 L1410.2,271.0 L1413.2,274.1 L1416.3,271.0 L1419.4,258.7 L1422.5,249.4 L1425.6,250.9 L1428.7,254.0 L1431.7,258.7 L1434.8,267.9 L1437.9,277.1 L1441.0,284.9 L1444.1,292.6 L1447.1,297.2 L1450.2,298.7 L1453.3,300.3 L1456.4,306.4 L1459.5,311.1 L1462.6,308.0 L1465.6,304.9 L1468.7,308.0 L1471.8,301.8 L1474.1,298.7 L1476.4,301.8 L1479.5,309.5 L1482.6,304.9 L1485.7,295.6 L1488.8,289.5 L1491.8,284.9 L1494.9,283.3 L1497.2,280.2 L1499.6,258.7 L1501.9,246.3 L1504.2,240.2 L1506.5,258.7 L1508.8,240.2 L1511.1,210.9 L1515.0,203.2 L1516.4,201.6 L1520.2,201.6 L1523.3,206.2 L1525.6,221.7 L1527.9,234.0 L1530.3,244.8 L1533.3,246.3 L1535.6,247.9 L1538.0,258.7 L1540.3,277.1 L1542.6,267.9 L1544.9,260.2 L1548.0,271.0 L1550.3,281.8 L1552.6,267.9 L1554.9,252.5 L1557.2,244.0 L1560.3,250.9 L1561.8,254.0 L1564.2,244.8 L1566.5,232.4 L1569.6,220.1 L1573.4,212.4 L1576.5,220.1 L1580.0,230.9" fill="none" stroke="#63196e" stroke-width="3" stroke-linejoin="round" stroke-linecap="round"/>
<path d="M103.9,395.1 L106.2,383.5 L110.9,371.2 L117.0,361.9 L121.7,355.8 L127.8,345.0 L130.9,335.7 L133.7,325.7 L135.5,331.1 L137.8,338.8 L140.2,332.6 L143.2,334.2 L146.3,345.0 L150.9,355.8 L155.6,354.2 L160.2,348.1 L163.3,352.7 L166.4,361.9 L171.0,374.3 L174.8,377.3 L178.7,386.6 L181.8,395.1 L184.8,420.2 L244.3,420.2 L247.3,395.1 L251.1,383.5 L255.8,377.3 L258.5,380.4 L262.4,389.7 L264.7,378.9 L267.7,368.1 L270.8,360.4 L273.9,354.2 L277.8,346.5 L281.6,343.4 L284.7,348.1 L287.8,354.2 L290.9,348.1 L294.7,341.9 L299.3,341.1 L303.2,341.9 L307.1,345.0 L310.9,354.2 L314.8,363.5 L318.6,371.2 L323.2,374.3 L326.3,375.8 L329.4,382.0 L333.3,388.1 L337.1,395.1 L340.1,420.2 L396.5,420.2 L399.5,395.1 L403.4,388.1 L408.0,386.6 L411.1,378.9 L414.2,368.1 L417.3,363.5 L421.1,368.1 L425.0,365.0 L428.1,355.8 L431.9,348.1 L435.8,352.7 L439.2,348.8 L442.3,345.0 L445.4,346.5 L449.3,351.1 L453.1,349.6 L457.0,354.2 L460.8,357.3 L465.5,358.8 L470.1,363.5 L474.7,371.2 L477.8,378.9 L480.9,386.6 L483.9,395.1 L486.9,420.2 L556.5,420.2 L559.5,395.1 L561.8,385.0 L564.1,371.2 L567.2,363.5 L571.8,360.4 L576.4,363.5 L580.3,361.9 L584.1,351.1 L587.2,351.1 L590.3,355.0 L593.4,348.1 L597.2,345.0 L601.1,346.5 L604.2,348.1 L608.8,351.1 L613.4,354.2 L616.2,355.8 L619.2,360.4 L622.3,368.1 L625.4,372.7 L629.3,375.8 L632.4,385.0 L634.7,395.1 L637.7,420.2 L694.9,420.2 L697.9,395.1 L700.9,385.0 L704.0,377.3 L707.9,372.7 L711.7,375.8 L716.4,380.4 L719.4,385.0 L722.5,378.9 L727.1,365.0 L731.8,354.2 L736.4,351.1 L741.0,349.6 L745.6,346.5 L750.3,345.0 L754.1,345.0 L758.0,351.1 L762.6,348.1 L767.2,349.6 L771.8,357.3 L776.5,366.6 L779.6,375.8 L782.6,382.0 L787.3,382.0 L790.3,386.6 L793.4,395.1 L798.5,395.1 L801.5,420.2 L851.7,420.2 L854.7,395.1 L859.4,388.1 L862.4,382.0 L865.5,372.7 L868.6,375.8 L871.7,380.4 L874.8,369.6 L877.9,361.9 L880.9,363.5 L884.0,360.4 L887.1,351.1 L890.2,343.4 L894.0,340.3 L897.9,337.3 L901.0,341.9 L904.8,343.4 L910.2,343.4 L914.9,344.2 L920.3,345.0 L924.1,352.7 L927.2,361.9 L930.3,372.7 L933.4,382.0 L936.4,377.3 L939.5,385.0 L942.6,395.1 L945.6,420.2 L1000.9,420.2 L1003.9,395.1 L1007.0,389.7 L1011.6,388.1 L1016.2,383.5 L1020.9,378.9 L1024.7,372.7 L1028.6,363.5 L1031.7,357.3 L1034.7,354.2 L1037.8,352.7 L1042.4,354.2 L1045.5,351.1 L1047.8,345.0 L1050.2,338.8 L1053.2,337.3 L1056.3,338.8 L1059.4,335.7 L1062.5,334.2 L1065.6,341.9 L1068.7,351.1 L1071.7,355.8 L1076.4,358.8 L1079.4,361.9 L1082.5,368.1 L1085.6,375.8 L1088.7,385.0 L1091.8,395.1 L1094.8,420.2 L1156.2,420.2 L1159.2,395.1 L1162.3,386.6 L1165.4,380.4 L1167.7,383.5 L1170.0,380.4 L1173.1,372.7 L1176.2,366.6 L1179.3,360.4 L1182.4,354.2 L1185.5,349.6 L1188.5,351.1 L1191.6,348.1 L1194.7,343.4 L1197.0,334.2 L1199.0,323.4 L1200.9,324.9 L1203.2,335.7 L1207.0,338.8 L1210.9,340.3 L1214.0,343.4 L1217.1,346.5 L1220.9,352.7 L1224.0,357.3 L1227.1,360.4 L1230.2,363.5 L1233.2,369.6 L1236.3,377.3 L1239.4,388.1 L1242.5,395.1 L1245.6,389.7 L1249.4,395.1 L1252.4,420.2 L1304.2,420.2 L1307.2,395.1 L1310.3,386.6 L1312.6,378.9 L1315.7,388.1 L1318.0,395.1 L1321.1,372.7 L1324.2,366.6 L1328.8,363.5 L1333.4,357.3 L1336.2,360.4 L1339.2,355.8 L1342.3,351.1 L1345.4,346.5 L1348.5,343.4 L1351.6,341.1 L1353.9,349.6 L1356.2,348.1 L1360.1,345.0 L1363.9,343.4 L1367.8,343.4 L1370.8,345.0 L1373.9,349.6 L1377.0,357.3 L1380.1,365.0 L1383.2,372.7 L1386.3,378.9 L1390.1,383.5 L1393.2,385.0 L1396.3,386.6 L1399.4,389.7 L1402.4,395.1 L1405.4,420.2 L1464.2,420.2 L1467.2,395.1 L1469.5,388.1 L1472.6,382.0 L1476.4,377.3 L1481.1,372.7 L1485.7,366.6 L1489.5,360.4 L1492.6,354.2 L1495.7,345.0 L1498.8,340.3 L1501.1,345.0 L1503.4,351.1 L1506.5,340.3 L1508.8,340.3 L1511.9,343.4 L1515.7,346.5 L1520.2,351.1 L1523.3,357.3 L1527.2,354.2 L1531.0,358.8 L1534.9,361.9 L1537.2,357.3 L1540.3,352.7 L1542.6,363.5 L1544.9,378.9 L1548.0,389.7 L1551.1,391.2 L1554.1,388.9 L1557.2,391.2 L1560.3,395.1" fill="none" stroke="#78ecf0" stroke-width="3" stroke-linejoin="round" stroke-linecap="round" clip-path="url(#clip1)"/>
<text x="821.0" y="472.5" font-size="25" text-anchor="middle" fill="#333" stroke="#333" stroke-width="0.4" font-weight="normal" >date (year beginning)</text>
<text x="1657" y="202.7" font-size="24.5" fill="#161616" stroke="#161616" stroke-width="0.4">(L/d/m<tspan font-size="16" dy="-10.5">2</tspan><tspan dy="10.5">),</tspan></text>
<text x="1657" y="233.9" font-size="24.5" fill="#161616" stroke="#161616" stroke-width="0.4">(°C),</text>
<text x="1657" y="265.1" font-size="24.5" fill="#161616" stroke="#161616" stroke-width="0.4">(%),</text>
<text x="1657" y="296.3" font-size="24.5" fill="#161616" stroke="#161616" stroke-width="0.4">(W/m<tspan font-size="16" dy="-10.5">2</tspan><tspan dy="10.5">/10)</tspan></text>
<text x="60.0" y="567.5" font-size="25" text-anchor="start" fill="#161616" stroke="#161616" stroke-width="0.4" font-weight="normal" >Limits_Kim2020 timeseries</text>
<rect x="1092" y="600.5" width="50" height="10.5" fill="#1b3182" fill-opacity="0.3"/>
<rect x="1092" y="596.0" width="50" height="4.5" fill="#1b3182"/>
<text x="1153.0" y="607.5" font-size="25" text-anchor="start" fill="#161616" stroke="#161616" stroke-width="0.4" font-weight="normal" >O</text>
<line x1="1211.5" y1="598.5" x2="1262.5" y2="598.5" stroke="#f2f76e" stroke-width="3"/>
<text x="1272.0" y="607.5" font-size="25" text-anchor="start" fill="#161616" stroke="#161616" stroke-width="0.4" font-weight="normal" >ghi</text>
<line x1="1345" y1="598.5" x2="1394" y2="598.5" stroke="#63196e" stroke-width="3"/>
<text x="1403.5" y="607.5" font-size="25" text-anchor="start" fill="#161616" stroke="#161616" stroke-width="0.4" font-weight="normal" >rh</text>
<line x1="1467" y1="598.5" x2="1516" y2="598.5" stroke="#78ecf0" stroke-width="3"/>
<text x="1526.0" y="607.5" font-size="25" text-anchor="start" fill="#161616" stroke="#161616" stroke-width="0.4" font-weight="normal" >temp</text>
<line x1="436.5" y1="626.0" x2="436.5" y2="933.2" stroke="#cccccc" stroke-width="2"/>
<line x1="811.0" y1="626.0" x2="811.0" y2="933.2" stroke="#cccccc" stroke-width="2"/>
<line x1="1185.5" y1="626.0" x2="1185.5" y2="933.2" stroke="#cccccc" stroke-width="2"/>
<line x1="1560.0" y1="626.0" x2="1560.0" y2="933.2" stroke="#cccccc" stroke-width="2"/>
<text x="62.0" y="971.0" font-size="25" text-anchor="middle" fill="#444444" stroke="#444444" stroke-width="0.4" font-weight="normal" >0</text>
<text x="436.5" y="971.0" font-size="25" text-anchor="middle" fill="#444444" stroke="#444444" stroke-width="0.4" font-weight="normal" >90</text>
<text x="811.0" y="971.0" font-size="25" text-anchor="middle" fill="#444444" stroke="#444444" stroke-width="0.4" font-weight="normal" >180</text>
<text x="1185.5" y="971.0" font-size="25" text-anchor="middle" fill="#444444" stroke="#444444" stroke-width="0.4" font-weight="normal" >270</text>
<text x="1560.0" y="971.0" font-size="25" text-anchor="middle" fill="#444444" stroke="#444444" stroke-width="0.4" font-weight="normal" >360</text>
<text x="1606.0" y="942.2" font-size="25" text-anchor="start" fill="#444444" stroke="#444444" stroke-width="0.4" font-weight="normal" >0</text>
<line x1="62.0" y1="878.4" x2="1580.5" y2="878.4" stroke="#cccccc" stroke-width="2"/>
<text x="1606.0" y="887.4" font-size="25" text-anchor="start" fill="#444444" stroke="#444444" stroke-width="0.4" font-weight="normal" >20</text>
<line x1="62.0" y1="821.5" x2="1580.5" y2="821.5" stroke="#cccccc" stroke-width="2"/>
<text x="1606.0" y="830.5" font-size="25" text-anchor="start" fill="#444444" stroke="#444444" stroke-width="0.4" font-weight="normal" >40</text>
<line x1="62.0" y1="766.7" x2="1580.5" y2="766.7" stroke="#cccccc" stroke-width="2"/>
<text x="1606.0" y="775.7" font-size="25" text-anchor="start" fill="#444444" stroke="#444444" stroke-width="0.4" font-weight="normal" >60</text>
<line x1="62.0" y1="711.6" x2="1580.5" y2="711.6" stroke="#cccccc" stroke-width="2"/>
<text x="1606.0" y="720.6" font-size="25" text-anchor="start" fill="#444444" stroke="#444444" stroke-width="0.4" font-weight="normal" >80</text>
<line x1="62.0" y1="654.6" x2="1580.5" y2="654.6" stroke="#cccccc" stroke-width="2"/>
<text x="1606.0" y="663.6" font-size="25" text-anchor="start" fill="#444444" stroke="#444444" stroke-width="0.4" font-weight="normal" >100</text>
<clipPath id="clip2"><rect x="0" y="0" width="1768" height="934.7"/></clipPath>
<path d="M62.0,933.2 L62.0,933.4 L227.6,933.4 L253.4,928.4 L287.8,923.1 L317.9,913.4 L341.6,904.8 L369.5,889.7 L399.6,876.8 L455.8,875.3 L509.5,850.0 L561.1,824.2 L623.4,816.7 L679.3,799.5 L735.2,796.2 L793.2,782.9 L849.4,789.4 L905.3,773.7 L961.2,770.5 L1017.1,778.0 L1073.0,802.7 L1128.8,823.1 L1186.6,829.0 L1241.3,854.0 L1298.3,889.6 L1357.7,914.6 L1409.9,931.2 L1478.8,932.4 L1579.8,933.1 L1579.8,933.2 Z" fill="#1b3182" fill-opacity="0.3" stroke="none"/>
<line x1="62.0" y1="933.2" x2="1580.5" y2="933.2" stroke="#333" stroke-width="2.2"/>
<path d="M62.0,933.4 L227.6,933.4 L253.4,928.4 L287.8,923.1 L317.9,913.4 L341.6,904.8 L369.5,889.7 L399.6,876.8 L455.8,875.3 L509.5,850.0 L561.1,824.2 L623.4,816.7 L679.3,799.5 L735.2,796.2 L793.2,782.9 L849.4,789.4 L905.3,773.7 L961.2,770.5 L1017.1,778.0 L1073.0,802.7 L1128.8,823.1 L1186.6,829.0 L1241.3,854.0 L1298.3,889.6 L1357.7,914.6 L1409.9,931.2 L1478.8,932.4 L1579.8,933.1" fill="none" stroke="#1b3182" stroke-width="4.5" stroke-linejoin="round" stroke-linecap="round"/>
<path d="M62.0,885.4 C65.2,885.0 74.7,883.7 81.5,882.6 C88.3,881.6 95.8,880.5 103.0,879.0 C110.2,877.5 117.3,875.6 124.5,873.6 C131.6,871.6 138.8,869.2 146.0,867.2 C153.1,865.1 160.3,862.8 167.5,861.2 C174.6,859.5 181.8,858.6 189.0,857.5 C196.1,856.4 203.3,855.7 210.5,854.7 C217.6,853.7 224.8,852.9 231.9,851.7 C239.1,850.5 246.3,848.9 253.4,847.4 C260.6,845.9 268.5,844.0 274.9,842.5 C281.4,840.9 286.8,839.8 292.1,838.2 C297.5,836.5 302.2,834.5 307.2,832.8 C312.2,831.1 317.2,829.3 322.2,828.1 C327.2,826.8 332.6,825.5 337.3,825.3 C341.9,825.0 345.5,825.6 350.2,826.3 C354.8,827.1 359.8,828.5 365.2,829.6 C370.6,830.6 371.6,833.0 382.4,832.8 C393.2,832.5 414.9,829.5 430.0,828.1 C445.1,826.6 458.7,825.2 473.0,824.2 C487.3,823.2 501.6,822.6 516.0,822.0 C530.3,821.5 544.6,821.9 559.0,821.0 C573.3,820.1 589.4,817.9 601.9,816.7 C614.5,815.4 623.4,813.4 634.2,813.4 C644.9,813.4 653.9,815.7 666.4,816.7 C679.0,817.7 695.1,818.7 709.4,819.5 C723.7,820.2 738.1,820.4 752.4,821.0 C766.7,821.6 787.5,822.9 795.4,823.1 C803.3,823.3 792.1,821.5 800.0,822.0 C807.9,822.6 828.7,824.5 843.0,826.3 C857.3,828.1 873.4,831.1 886.0,832.8 C898.5,834.5 905.7,835.8 918.2,836.7 C930.8,837.5 948.7,838.4 961.2,838.2 C973.7,837.9 984.5,835.9 993.4,834.9 C1002.4,834.0 1006.0,832.2 1014.9,832.4 C1023.9,832.5 1036.4,834.9 1047.2,836.0 C1057.9,837.2 1065.8,838.7 1079.4,839.2 C1093.0,839.8 1113.7,838.4 1128.8,839.2 C1143.9,840.1 1159.2,843.1 1170.0,844.5 C1180.8,845.9 1183.9,846.7 1193.8,847.6 C1203.7,848.5 1217.5,848.7 1229.4,850.0 C1241.3,851.2 1253.1,853.1 1265.0,855.2 C1276.9,857.2 1288.8,859.9 1300.7,862.3 C1312.5,864.7 1324.4,867.4 1336.3,869.4 C1348.2,871.5 1360.0,873.5 1371.9,874.7 C1383.8,875.8 1395.7,875.7 1407.6,876.6 C1419.4,877.5 1431.3,878.7 1443.2,880.1 C1455.1,881.5 1466.9,883.6 1478.8,884.9 C1490.7,886.2 1502.6,887.4 1514.5,888.0 C1526.3,888.6 1539.2,888.4 1550.1,888.4 C1561.0,888.5 1574.8,888.4 1579.8,888.4" fill="none" stroke="#f2f76e" stroke-width="3" stroke-linejoin="round" stroke-linecap="round"/>
<path d="M62.0,751.5 C65.2,751.8 74.7,752.3 81.5,752.8 C88.3,753.4 96.2,754.1 103.0,755.0 C109.8,755.8 115.2,756.6 122.3,758.0 C129.5,759.4 138.5,761.9 146.0,763.6 C153.5,765.2 160.3,766.7 167.5,767.9 C174.6,769.1 181.8,770.0 189.0,770.9 C196.1,771.7 203.3,772.1 210.5,773.0 C217.6,774.0 224.8,775.2 231.9,776.5 C239.1,777.8 247.0,779.3 253.4,780.8 C259.9,782.2 265.3,783.6 270.6,785.1 C276.0,786.6 280.7,787.2 285.7,789.8 C290.7,792.4 295.4,796.6 300.7,800.5 C306.1,804.5 312.9,809.9 317.9,813.4 C322.9,817.0 326.9,819.9 330.8,822.0 C334.8,824.2 337.3,825.3 341.6,826.3 C345.9,827.4 351.6,828.1 356.6,828.5 C361.6,828.9 366.6,828.9 371.7,828.9 C376.7,828.9 382.0,828.4 386.7,828.5 C391.4,828.6 394.9,829.0 399.6,829.6 C404.2,830.1 409.6,831.2 414.6,831.7 C419.7,832.2 423.9,832.3 430.0,832.8 C436.1,833.2 442.5,834.7 451.5,834.5 C460.4,834.3 472.3,833.2 483.7,831.7 C495.2,830.2 510.6,827.1 520.3,825.3 C529.9,823.5 534.2,822.2 541.8,821.0 C549.3,819.7 558.2,817.7 565.4,817.7 C572.6,817.7 578.7,819.5 584.8,821.0 C590.8,822.4 595.5,825.2 601.9,826.3 C608.4,827.5 616.3,828.6 623.4,828.1 C630.6,827.5 636.0,825.5 644.9,823.1 C653.9,820.7 666.4,816.2 677.2,813.4 C687.9,810.7 698.7,808.7 709.4,806.6 C720.2,804.4 730.9,802.4 741.7,800.5 C752.4,798.6 764.2,796.4 773.9,795.2 C783.6,793.9 787.8,794.1 800.0,793.0 C812.2,791.9 834.7,791.1 847.3,788.7 C859.8,786.3 865.2,781.8 875.2,778.6 C885.3,775.4 898.5,771.2 907.5,769.4 C916.4,767.6 916.4,768.1 929.0,767.9 C941.5,767.7 966.6,767.7 982.7,768.3 C998.8,768.9 1011.3,769.9 1025.7,771.5 C1040.0,773.1 1056.1,775.3 1068.7,778.0 C1081.2,780.7 1090.9,785.0 1100.9,787.6 C1110.9,790.3 1119.9,792.9 1128.8,793.7 C1137.8,794.4 1147.8,792.5 1154.6,791.9 C1161.5,791.4 1164.7,791.0 1170.0,790.6 C1175.3,790.1 1178.7,789.5 1186.6,789.1 C1194.5,788.8 1207.2,788.4 1217.5,788.7 C1227.8,788.9 1238.5,789.6 1248.4,790.6 C1258.3,791.6 1267.8,793.5 1276.9,794.6 C1286.0,795.7 1293.1,796.4 1303.0,797.0 C1312.9,797.6 1327.2,798.4 1336.3,798.2 C1345.4,797.9 1349.8,797.7 1357.7,795.3 C1365.6,792.9 1374.7,787.6 1383.8,783.9 C1392.9,780.2 1402.4,776.4 1412.3,773.2 C1422.2,770.1 1432.1,767.3 1443.2,764.9 C1454.3,762.5 1466.9,760.4 1478.8,759.0 C1490.7,757.5 1503.8,756.7 1514.5,756.1 C1525.1,755.5 1532.1,755.3 1543.0,755.4 C1553.9,755.5 1573.6,756.4 1579.8,756.6" fill="none" stroke="#63196e" stroke-width="3" stroke-linejoin="round" stroke-linecap="round"/>
<path d="M382.4,933.4 C390.3,933.1 416.7,932.3 430.0,931.7 C443.3,931.0 449.7,931.3 462.2,929.5 C474.8,927.7 489.1,923.6 505.2,920.9 C521.3,918.2 541.0,916.1 559.0,913.4 C576.9,910.7 593.0,907.7 612.7,904.8 C632.4,901.9 657.5,899.6 677.2,896.2 C696.9,892.8 714.8,886.6 730.9,884.4 C747.0,882.1 762.4,883.0 773.9,882.6 C785.4,882.3 788.5,882.5 800.0,882.2 C811.5,882.0 825.8,881.6 843.0,881.1 C860.2,880.7 885.3,879.4 903.2,879.6 C921.1,879.9 931.8,881.2 950.5,882.6 C969.1,884.1 995.2,886.3 1014.9,888.2 C1034.6,890.1 1050.8,891.5 1068.7,894.0 C1086.6,896.5 1105.5,900.7 1122.4,903.3 C1139.3,905.9 1158.1,907.9 1170.0,909.8 C1181.9,911.7 1181.9,912.6 1193.8,914.6 C1205.6,916.5 1227.4,919.5 1241.3,921.7 C1255.1,923.9 1265.8,925.7 1276.9,927.6 C1288.0,929.6 1302.1,928.5 1307.8,933.6 C1313.4,938.7 1308.5,954.1 1310.8,958.2 C1313.1,962.3 1319.1,962.1 1321.4,958.2 C1323.7,954.3 1323.9,938.7 1324.4,934.8" fill="none" stroke="#78ecf0" stroke-width="3" stroke-linejoin="round" stroke-linecap="round" clip-path="url(#clip2)"/>
<line x1="62.0" y1="626.0" x2="62.0" y2="934.2" stroke="#333" stroke-width="2.2"/>
<text x="821.0" y="1010.5" font-size="25" text-anchor="middle" fill="#333" stroke="#333" stroke-width="0.4" font-weight="normal" >day of year</text>
<text x="1657" y="746.8" font-size="24.5" fill="#161616" stroke="#161616" stroke-width="0.4">(L/d/m<tspan font-size="16" dy="-10.5">2</tspan><tspan dy="10.5">),</tspan></text>
<text x="1657" y="778.0" font-size="24.5" fill="#161616" stroke="#161616" stroke-width="0.4">(°C),</text>
<text x="1657" y="809.2" font-size="24.5" fill="#161616" stroke="#161616" stroke-width="0.4">(%),</text>
<text x="1657" y="840.4" font-size="24.5" fill="#161616" stroke="#161616" stroke-width="0.4">(W/m<tspan font-size="16" dy="-10.5">2</tspan><tspan dy="10.5">/10)</tspan></text>
<text x="60.0" y="1105.9" font-size="25" text-anchor="start" fill="#161616" stroke="#161616" stroke-width="0.4" font-weight="normal" >1.0 billion Target Curve (linear) timeseries</text>
<rect x="1092" y="1138.9" width="50" height="10.5" fill="#1b3182" fill-opacity="0.3"/>
<rect x="1092" y="1134.4" width="50" height="4.5" fill="#1b3182"/>
<text x="1153.0" y="1145.9" font-size="25" text-anchor="start" fill="#161616" stroke="#161616" stroke-width="0.4" font-weight="normal" >O</text>
<line x1="1211.5" y1="1136.9" x2="1262.5" y2="1136.9" stroke="#f2f76e" stroke-width="3"/>
<text x="1272.0" y="1145.9" font-size="25" text-anchor="start" fill="#161616" stroke="#161616" stroke-width="0.4" font-weight="normal" >ghi</text>
<line x1="1345" y1="1136.9" x2="1394" y2="1136.9" stroke="#63196e" stroke-width="3"/>
<text x="1403.5" y="1145.9" font-size="25" text-anchor="start" fill="#161616" stroke="#161616" stroke-width="0.4" font-weight="normal" >rh</text>
<line x1="1467" y1="1136.9" x2="1516" y2="1136.9" stroke="#78ecf0" stroke-width="3"/>
<text x="1526.0" y="1145.9" font-size="25" text-anchor="start" fill="#161616" stroke="#161616" stroke-width="0.4" font-weight="normal" >temp</text>
<line x1="111.9" y1="1164.4" x2="111.9" y2="1471.6000000000001" stroke="#ebebeb" stroke-width="2"/>
<line x1="163.1" y1="1164.4" x2="163.1" y2="1471.6000000000001" stroke="#ebebeb" stroke-width="2"/>
<line x1="263.8" y1="1164.4" x2="263.8" y2="1471.6000000000001" stroke="#ebebeb" stroke-width="2"/>
<line x1="315.0" y1="1164.4" x2="315.0" y2="1471.6000000000001" stroke="#ebebeb" stroke-width="2"/>
<line x1="416.2" y1="1164.4" x2="416.2" y2="1471.6000000000001" stroke="#ebebeb" stroke-width="2"/>
<line x1="467.4" y1="1164.4" x2="467.4" y2="1471.6000000000001" stroke="#ebebeb" stroke-width="2"/>
<line x1="568.1" y1="1164.4" x2="568.1" y2="1471.6000000000001" stroke="#ebebeb" stroke-width="2"/>
<line x1="619.3" y1="1164.4" x2="619.3" y2="1471.6000000000001" stroke="#ebebeb" stroke-width="2"/>
<line x1="720.0" y1="1164.4" x2="720.0" y2="1471.6000000000001" stroke="#ebebeb" stroke-width="2"/>
<line x1="771.2" y1="1164.4" x2="771.2" y2="1471.6000000000001" stroke="#ebebeb" stroke-width="2"/>
<line x1="871.9" y1="1164.4" x2="871.9" y2="1471.6000000000001" stroke="#ebebeb" stroke-width="2"/>
<line x1="923.1" y1="1164.4" x2="923.1" y2="1471.6000000000001" stroke="#ebebeb" stroke-width="2"/>
<line x1="1024.2" y1="1164.4" x2="1024.2" y2="1471.6000000000001" stroke="#ebebeb" stroke-width="2"/>
<line x1="1075.4" y1="1164.4" x2="1075.4" y2="1471.6000000000001" stroke="#ebebeb" stroke-width="2"/>
<line x1="1176.1" y1="1164.4" x2="1176.1" y2="1471.6000000000001" stroke="#ebebeb" stroke-width="2"/>
<line x1="1227.3" y1="1164.4" x2="1227.3" y2="1471.6000000000001" stroke="#ebebeb" stroke-width="2"/>
<line x1="1328.0" y1="1164.4" x2="1328.0" y2="1471.6000000000001" stroke="#ebebeb" stroke-width="2"/>
<line x1="1379.2" y1="1164.4" x2="1379.2" y2="1471.6000000000001" stroke="#ebebeb" stroke-width="2"/>
<line x1="1479.9" y1="1164.4" x2="1479.9" y2="1471.6000000000001" stroke="#ebebeb" stroke-width="2"/>
<line x1="1531.1" y1="1164.4" x2="1531.1" y2="1471.6000000000001" stroke="#ebebeb" stroke-width="2"/>
<line x1="62.0" y1="1164.4" x2="62.0" y2="1471.6000000000001" stroke="#cccccc" stroke-width="2"/>
<text x="62.0" y="1509.4" font-size="25" text-anchor="middle" fill="#444444" stroke="#444444" stroke-width="0.4" font-weight="normal" >2010</text>
<line x1="213.9" y1="1164.4" x2="213.9" y2="1471.6000000000001" stroke="#cccccc" stroke-width="2"/>
<text x="213.9" y="1509.4" font-size="25" text-anchor="middle" fill="#444444" stroke="#444444" stroke-width="0.4" font-weight="normal" >2011</text>
<line x1="365.8" y1="1164.4" x2="365.8" y2="1471.6000000000001" stroke="#cccccc" stroke-width="2"/>
<text x="365.8" y="1509.4" font-size="25" text-anchor="middle" fill="#444444" stroke="#444444" stroke-width="0.4" font-weight="normal" >2012</text>
<line x1="518.1" y1="1164.4" x2="518.1" y2="1471.6000000000001" stroke="#cccccc" stroke-width="2"/>
<text x="518.1" y="1509.4" font-size="25" text-anchor="middle" fill="#444444" stroke="#444444" stroke-width="0.4" font-weight="normal" >2013</text>
<line x1="670.0" y1="1164.4" x2="670.0" y2="1471.6000000000001" stroke="#cccccc" stroke-width="2"/>
<text x="670.0" y="1509.4" font-size="25" text-anchor="middle" fill="#444444" stroke="#444444" stroke-width="0.4" font-weight="normal" >2014</text>
<line x1="822.0" y1="1164.4" x2="822.0" y2="1471.6000000000001" stroke="#cccccc" stroke-width="2"/>
<text x="822.0" y="1509.4" font-size="25" text-anchor="middle" fill="#444444" stroke="#444444" stroke-width="0.4" font-weight="normal" >2015</text>
<line x1="973.9" y1="1164.4" x2="973.9" y2="1471.6000000000001" stroke="#cccccc" stroke-width="2"/>
<text x="973.9" y="1509.4" font-size="25" text-anchor="middle" fill="#444444" stroke="#444444" stroke-width="0.4" font-weight="normal" >2016</text>
<line x1="1126.2" y1="1164.4" x2="1126.2" y2="1471.6000000000001" stroke="#cccccc" stroke-width="2"/>
<text x="1126.2" y="1509.4" font-size="25" text-anchor="middle" fill="#444444" stroke="#444444" stroke-width="0.4" font-weight="normal" >2017</text>
<line x1="1278.1" y1="1164.4" x2="1278.1" y2="1471.6000000000001" stroke="#cccccc" stroke-width="2"/>
<text x="1278.1" y="1509.4" font-size="25" text-anchor="middle" fill="#444444" stroke="#444444" stroke-width="0.4" font-weight="normal" >2018</text>
<line x1="1430.0" y1="1164.4" x2="1430.0" y2="1471.6000000000001" stroke="#cccccc" stroke-width="2"/>
<text x="1430.0" y="1509.4" font-size="25" text-anchor="middle" fill="#444444" stroke="#444444" stroke-width="0.4" font-weight="normal" >2019</text>
<text x="1606.0" y="1480.6" font-size="25" text-anchor="start" fill="#444444" stroke="#444444" stroke-width="0.4" font-weight="normal" >0</text>
<line x1="62.0" y1="1416.8" x2="1580.5" y2="1416.8" stroke="#cccccc" stroke-width="2"/>
<text x="1606.0" y="1425.8" font-size="25" text-anchor="start" fill="#444444" stroke="#444444" stroke-width="0.4" font-weight="normal" >2</text>
<line x1="62.0" y1="1359.9" x2="1580.5" y2="1359.9" stroke="#cccccc" stroke-width="2"/>
<text x="1606.0" y="1368.9" font-size="25" text-anchor="start" fill="#444444" stroke="#444444" stroke-width="0.4" font-weight="normal" >4</text>
<line x1="62.0" y1="1305.1" x2="1580.5" y2="1305.1" stroke="#cccccc" stroke-width="2"/>
<text x="1606.0" y="1314.1" font-size="25" text-anchor="start" fill="#444444" stroke="#444444" stroke-width="0.4" font-weight="normal" >6</text>
<line x1="62.0" y1="1250.0" x2="1580.5" y2="1250.0" stroke="#cccccc" stroke-width="2"/>
<text x="1606.0" y="1259.0" font-size="25" text-anchor="start" fill="#444444" stroke="#444444" stroke-width="0.4" font-weight="normal" >8</text>
<line x1="62.0" y1="1193.0" x2="1580.5" y2="1193.0" stroke="#cccccc" stroke-width="2"/>
<text x="1606.0" y="1202.0" font-size="25" text-anchor="start" fill="#444444" stroke="#444444" stroke-width="0.4" font-weight="normal" >10</text>
<clipPath id="clip3"><rect x="0" y="0" width="1768" height="1473.1"/></clipPath>
<path d="M62.0,1471.6 L62.0,1471.8 L84.7,1471.8 L90.1,1467.2 L93.1,1458.0 L96.2,1440.2 L98.2,1447.2 L100.1,1458.0 L102.4,1441.0 L106.2,1417.9 L110.1,1391.7 L113.2,1379.4 L117.0,1373.2 L120.1,1371.6 L123.2,1374.0 L125.5,1359.3 L128.6,1332.3 L130.9,1343.9 L133.7,1367.0 L135.5,1374.7 L137.1,1363.9 L140.2,1351.6 L144.0,1345.4 L148.6,1342.4 L152.5,1345.4 L156.3,1350.1 L161.0,1353.1 L163.3,1360.9 L166.4,1371.6 L169.4,1380.9 L171.8,1396.3 L174.1,1399.4 L176.4,1400.9 L178.7,1413.3 L181.0,1428.7 L183.3,1437.9 L187.9,1448.7 L192.6,1462.6 L196.4,1471.8 L231.1,1471.8 L237.3,1464.1 L241.9,1469.5 L245.0,1464.1 L247.3,1433.3 L250.4,1421.0 L254.2,1399.4 L257.0,1384.0 L261.6,1371.6 L265.4,1357.8 L269.3,1343.9 L274.7,1334.7 L277.8,1343.9 L280.8,1348.5 L283.2,1328.5 L286.2,1299.2 L288.6,1300.7 L290.1,1313.1 L293.9,1317.7 L298.6,1322.3 L301.7,1323.9 L304.0,1343.9 L306.3,1359.3 L310.9,1362.4 L313.2,1363.9 L315.5,1377.8 L317.8,1391.7 L320.9,1399.4 L324.0,1408.6 L326.3,1399.4 L327.9,1396.3 L330.2,1405.6 L333.3,1421.0 L336.3,1436.4 L340.2,1451.8 L343.3,1464.1 L345.6,1471.1 L389.5,1471.1 L392.6,1458.0 L395.7,1450.3 L401.1,1437.9 L402.6,1421.0 L404.2,1402.5 L409.6,1402.5 L411.9,1390.1 L414.2,1374.7 L416.5,1365.5 L419.6,1363.9 L422.7,1359.3 L425.0,1345.4 L426.5,1330.0 L431.1,1330.0 L434.2,1325.4 L436.2,1323.9 L439.2,1317.7 L441.6,1313.1 L445.4,1317.7 L449.3,1322.3 L453.1,1333.1 L457.0,1331.6 L460.1,1330.8 L462.4,1347.0 L465.5,1362.4 L469.3,1374.7 L473.2,1380.9 L477.8,1391.7 L480.9,1402.5 L483.9,1421.0 L487.0,1439.5 L490.9,1458.0 L496.3,1471.1 L535.6,1471.1 L537.9,1458.0 L541.0,1445.6 L547.1,1447.2 L550.2,1454.9 L553.3,1461.8 L554.9,1433.3 L556.4,1424.1 L559.5,1410.2 L562.6,1397.8 L565.6,1380.9 L568.7,1368.6 L571.8,1365.5 L574.9,1356.2 L577.2,1337.7 L578.7,1320.8 L581.8,1323.9 L584.9,1325.4 L588.0,1323.9 L591.8,1322.3 L596.5,1324.6 L599.6,1325.4 L602.6,1323.9 L605.7,1323.9 L609.6,1330.0 L613.4,1340.8 L616.2,1347.0 L619.2,1359.3 L622.3,1371.6 L625.4,1377.8 L628.5,1379.4 L630.8,1391.7 L633.1,1410.2 L635.4,1428.7 L637.7,1450.3 L640.8,1444.1 L643.9,1441.0 L647.0,1454.9 L650.1,1465.7 L654.7,1471.1 L682.4,1471.1 L687.8,1464.1 L691.7,1468.8 L694.8,1471.1 L697.9,1454.9 L700.9,1428.7 L704.0,1405.6 L707.1,1387.1 L711.0,1391.7 L714.8,1396.3 L717.9,1380.9 L721.0,1363.9 L724.1,1348.5 L726.4,1334.7 L730.2,1333.1 L733.3,1333.1 L737.9,1328.5 L740.3,1308.4 L742.6,1288.4 L745.6,1300.7 L748.0,1313.1 L751.0,1333.1 L754.9,1328.5 L758.0,1325.4 L761.1,1337.7 L764.1,1347.0 L767.2,1359.3 L770.3,1376.3 L773.4,1380.9 L776.5,1384.0 L779.6,1396.3 L782.6,1404.0 L785.7,1405.6 L788.8,1419.4 L791.9,1433.3 L795.0,1445.6 L796.2,1451.8 L800.8,1471.1 L834.7,1471.1 L839.3,1469.5 L843.9,1471.1 L847.8,1465.7 L851.7,1456.4 L854.7,1428.7 L857.1,1405.6 L859.4,1421.0 L860.9,1433.3 L863.2,1416.3 L866.3,1399.4 L869.4,1388.6 L873.2,1380.9 L876.3,1377.8 L879.4,1356.2 L882.5,1337.7 L885.6,1343.9 L888.7,1353.1 L891.7,1359.3 L894.8,1371.6 L897.9,1363.9 L901.0,1334.7 L903.3,1323.9 L907.1,1328.5 L910.2,1334.7 L913.3,1343.9 L915.6,1353.1 L919.5,1354.7 L922.6,1356.2 L924.1,1368.6 L926.4,1380.9 L930.3,1379.4 L934.1,1379.4 L936.4,1390.1 L939.5,1405.6 L942.6,1421.0 L945.7,1436.4 L948.8,1448.7 L951.8,1459.5 L954.9,1471.1 L976.2,1471.1 L982.3,1469.5 L986.2,1468.0 L990.0,1469.5 L993.1,1471.1 L996.2,1461.0 L998.5,1451.8 L1000.8,1436.4 L1003.1,1424.1 L1007.0,1417.9 L1011.6,1410.2 L1016.2,1402.5 L1019.0,1397.8 L1020.9,1387.1 L1023.2,1367.0 L1025.5,1365.5 L1028.6,1367.0 L1031.7,1371.6 L1035.5,1384.0 L1037.8,1368.6 L1040.1,1334.7 L1042.4,1320.8 L1045.5,1323.9 L1048.6,1337.7 L1050.2,1351.6 L1053.2,1334.7 L1055.5,1325.4 L1058.6,1331.6 L1060.9,1343.9 L1063.3,1340.8 L1065.6,1334.7 L1067.9,1330.0 L1070.2,1343.9 L1072.5,1359.3 L1074.8,1367.0 L1077.9,1367.0 L1081.0,1368.6 L1084.1,1380.9 L1087.1,1390.1 L1089.5,1402.5 L1091.8,1417.9 L1094.1,1433.3 L1096.4,1444.1 L1099.5,1459.5 L1102.6,1467.2 L1105.6,1471.1 L1147.3,1471.1 L1150.3,1465.7 L1153.4,1454.9 L1156.2,1439.5 L1159.2,1421.0 L1161.6,1408.6 L1163.9,1399.4 L1167.0,1397.1 L1170.0,1394.8 L1173.1,1387.1 L1176.2,1380.9 L1179.3,1384.0 L1182.4,1390.1 L1185.5,1382.4 L1188.5,1376.3 L1193.2,1373.2 L1196.2,1377.8 L1199.3,1380.9 L1202.4,1367.0 L1205.5,1353.1 L1208.6,1343.9 L1211.7,1340.8 L1216.3,1339.3 L1220.1,1340.8 L1224.0,1347.0 L1227.1,1353.1 L1230.2,1362.4 L1233.2,1370.1 L1236.3,1374.7 L1238.6,1382.4 L1240.2,1421.0 L1243.3,1433.3 L1246.3,1424.1 L1248.7,1436.4 L1251.7,1451.8 L1254.8,1464.1 L1257.9,1471.1 L1296.4,1471.1 L1299.5,1464.1 L1302.6,1454.9 L1304.9,1439.5 L1307.2,1416.3 L1310.3,1402.5 L1313.4,1394.8 L1315.7,1405.6 L1317.2,1425.6 L1319.6,1402.5 L1321.9,1377.8 L1325.0,1387.1 L1328.0,1394.8 L1331.1,1384.0 L1334.2,1373.2 L1336.2,1371.6 L1339.2,1371.6 L1341.6,1365.5 L1344.6,1353.1 L1347.7,1343.9 L1350.8,1345.4 L1353.9,1334.7 L1357.0,1325.4 L1360.1,1317.7 L1363.1,1317.7 L1366.2,1316.2 L1369.3,1325.4 L1372.4,1333.1 L1376.2,1342.4 L1379.3,1351.6 L1382.4,1367.0 L1383.9,1374.7 L1386.3,1368.6 L1388.6,1357.8 L1390.9,1371.6 L1394.7,1405.6 L1398.6,1417.9 L1401.7,1431.8 L1404.8,1447.2 L1407.8,1461.0 L1410.9,1471.1 L1448.7,1471.1 L1451.8,1459.5 L1454.1,1448.7 L1457.2,1444.1 L1460.3,1439.5 L1462.6,1447.2 L1465.6,1454.9 L1467.2,1433.3 L1469.5,1413.3 L1471.8,1400.9 L1474.1,1391.7 L1477.2,1394.8 L1480.3,1399.4 L1482.6,1388.6 L1485.7,1374.7 L1488.8,1362.4 L1491.8,1353.1 L1495.7,1356.2 L1498.0,1357.8 L1500.3,1339.3 L1503.4,1310.0 L1506.5,1325.4 L1508.8,1328.5 L1511.9,1331.6 L1515.0,1333.1 L1516.4,1333.1 L1518.7,1334.7 L1521.8,1328.5 L1524.1,1320.8 L1526.4,1331.6 L1528.7,1343.9 L1531.8,1353.1 L1534.9,1359.3 L1537.2,1367.0 L1538.7,1374.7 L1540.3,1384.0 L1542.6,1399.4 L1544.9,1414.8 L1548.0,1427.1 L1550.3,1436.4 L1553.4,1433.3 L1557.2,1430.2 L1559.5,1448.7 L1561.8,1464.1 L1563.4,1471.1 L1580.0,1471.1 L1580.0,1471.6 Z" fill="#1b3182" fill-opacity="0.3" stroke="none"/>
<line x1="62.0" y1="1471.6" x2="1580.5" y2="1471.6" stroke="#333" stroke-width="2.2"/>
<path d="M62.0,1471.8 L84.7,1471.8 L90.1,1467.2 L93.1,1458.0 L96.2,1440.2 L98.2,1447.2 L100.1,1458.0 L102.4,1441.0 L106.2,1417.9 L110.1,1391.7 L113.2,1379.4 L117.0,1373.2 L120.1,1371.6 L123.2,1374.0 L125.5,1359.3 L128.6,1332.3 L130.9,1343.9 L133.7,1367.0 L135.5,1374.7 L137.1,1363.9 L140.2,1351.6 L144.0,1345.4 L148.6,1342.4 L152.5,1345.4 L156.3,1350.1 L161.0,1353.1 L163.3,1360.9 L166.4,1371.6 L169.4,1380.9 L171.8,1396.3 L174.1,1399.4 L176.4,1400.9 L178.7,1413.3 L181.0,1428.7 L183.3,1437.9 L187.9,1448.7 L192.6,1462.6 L196.4,1471.8 L231.1,1471.8 L237.3,1464.1 L241.9,1469.5 L245.0,1464.1 L247.3,1433.3 L250.4,1421.0 L254.2,1399.4 L257.0,1384.0 L261.6,1371.6 L265.4,1357.8 L269.3,1343.9 L274.7,1334.7 L277.8,1343.9 L280.8,1348.5 L283.2,1328.5 L286.2,1299.2 L288.6,1300.7 L290.1,1313.1 L293.9,1317.7 L298.6,1322.3 L301.7,1323.9 L304.0,1343.9 L306.3,1359.3 L310.9,1362.4 L313.2,1363.9 L315.5,1377.8 L317.8,1391.7 L320.9,1399.4 L324.0,1408.6 L326.3,1399.4 L327.9,1396.3 L330.2,1405.6 L333.3,1421.0 L336.3,1436.4 L340.2,1451.8 L343.3,1464.1 L345.6,1471.1 L389.5,1471.1 L392.6,1458.0 L395.7,1450.3 L401.1,1437.9 L402.6,1421.0 L404.2,1402.5 L409.6,1402.5 L411.9,1390.1 L414.2,1374.7 L416.5,1365.5 L419.6,1363.9 L422.7,1359.3 L425.0,1345.4 L426.5,1330.0 L431.1,1330.0 L434.2,1325.4 L436.2,1323.9 L439.2,1317.7 L441.6,1313.1 L445.4,1317.7 L449.3,1322.3 L453.1,1333.1 L457.0,1331.6 L460.1,1330.8 L462.4,1347.0 L465.5,1362.4 L469.3,1374.7 L473.2,1380.9 L477.8,1391.7 L480.9,1402.5 L483.9,1421.0 L487.0,1439.5 L490.9,1458.0 L496.3,1471.1 L535.6,1471.1 L537.9,1458.0 L541.0,1445.6 L547.1,1447.2 L550.2,1454.9 L553.3,1461.8 L554.9,1433.3 L556.4,1424.1 L559.5,1410.2 L562.6,1397.8 L565.6,1380.9 L568.7,1368.6 L571.8,1365.5 L574.9,1356.2 L577.2,1337.7 L578.7,1320.8 L581.8,1323.9 L584.9,1325.4 L588.0,1323.9 L591.8,1322.3 L596.5,1324.6 L599.6,1325.4 L602.6,1323.9 L605.7,1323.9 L609.6,1330.0 L613.4,1340.8 L616.2,1347.0 L619.2,1359.3 L622.3,1371.6 L625.4,1377.8 L628.5,1379.4 L630.8,1391.7 L633.1,1410.2 L635.4,1428.7 L637.7,1450.3 L640.8,1444.1 L643.9,1441.0 L647.0,1454.9 L650.1,1465.7 L654.7,1471.1 L682.4,1471.1 L687.8,1464.1 L691.7,1468.8 L694.8,1471.1 L697.9,1454.9 L700.9,1428.7 L704.0,1405.6 L707.1,1387.1 L711.0,1391.7 L714.8,1396.3 L717.9,1380.9 L721.0,1363.9 L724.1,1348.5 L726.4,1334.7 L730.2,1333.1 L733.3,1333.1 L737.9,1328.5 L740.3,1308.4 L742.6,1288.4 L745.6,1300.7 L748.0,1313.1 L751.0,1333.1 L754.9,1328.5 L758.0,1325.4 L761.1,1337.7 L764.1,1347.0 L767.2,1359.3 L770.3,1376.3 L773.4,1380.9 L776.5,1384.0 L779.6,1396.3 L782.6,1404.0 L785.7,1405.6 L788.8,1419.4 L791.9,1433.3 L795.0,1445.6 L796.2,1451.8 L800.8,1471.1 L834.7,1471.1 L839.3,1469.5 L843.9,1471.1 L847.8,1465.7 L851.7,1456.4 L854.7,1428.7 L857.1,1405.6 L859.4,1421.0 L860.9,1433.3 L863.2,1416.3 L866.3,1399.4 L869.4,1388.6 L873.2,1380.9 L876.3,1377.8 L879.4,1356.2 L882.5,1337.7 L885.6,1343.9 L888.7,1353.1 L891.7,1359.3 L894.8,1371.6 L897.9,1363.9 L901.0,1334.7 L903.3,1323.9 L907.1,1328.5 L910.2,1334.7 L913.3,1343.9 L915.6,1353.1 L919.5,1354.7 L922.6,1356.2 L924.1,1368.6 L926.4,1380.9 L930.3,1379.4 L934.1,1379.4 L936.4,1390.1 L939.5,1405.6 L942.6,1421.0 L945.7,1436.4 L948.8,1448.7 L951.8,1459.5 L954.9,1471.1 L976.2,1471.1 L982.3,1469.5 L986.2,1468.0 L990.0,1469.5 L993.1,1471.1 L996.2,1461.0 L998.5,1451.8 L1000.8,1436.4 L1003.1,1424.1 L1007.0,1417.9 L1011.6,1410.2 L1016.2,1402.5 L1019.0,1397.8 L1020.9,1387.1 L1023.2,1367.0 L1025.5,1365.5 L1028.6,1367.0 L1031.7,1371.6 L1035.5,1384.0 L1037.8,1368.6 L1040.1,1334.7 L1042.4,1320.8 L1045.5,1323.9 L1048.6,1337.7 L1050.2,1351.6 L1053.2,1334.7 L1055.5,1325.4 L1058.6,1331.6 L1060.9,1343.9 L1063.3,1340.8 L1065.6,1334.7 L1067.9,1330.0 L1070.2,1343.9 L1072.5,1359.3 L1074.8,1367.0 L1077.9,1367.0 L1081.0,1368.6 L1084.1,1380.9 L1087.1,1390.1 L1089.5,1402.5 L1091.8,1417.9 L1094.1,1433.3 L1096.4,1444.1 L1099.5,1459.5 L1102.6,1467.2 L1105.6,1471.1 L1147.3,1471.1 L1150.3,1465.7 L1153.4,1454.9 L1156.2,1439.5 L1159.2,1421.0 L1161.6,1408.6 L1163.9,1399.4 L1167.0,1397.1 L1170.0,1394.8 L1173.1,1387.1 L1176.2,1380.9 L1179.3,1384.0 L1182.4,1390.1 L1185.5,1382.4 L1188.5,1376.3 L1193.2,1373.2 L1196.2,1377.8 L1199.3,1380.9 L1202.4,1367.0 L1205.5,1353.1 L1208.6,1343.9 L1211.7,1340.8 L1216.3,1339.3 L1220.1,1340.8 L1224.0,1347.0 L1227.1,1353.1 L1230.2,1362.4 L1233.2,1370.1 L1236.3,1374.7 L1238.6,1382.4 L1240.2,1421.0 L1243.3,1433.3 L1246.3,1424.1 L1248.7,1436.4 L1251.7,1451.8 L1254.8,1464.1 L1257.9,1471.1 L1296.4,1471.1 L1299.5,1464.1 L1302.6,1454.9 L1304.9,1439.5 L1307.2,1416.3 L1310.3,1402.5 L1313.4,1394.8 L1315.7,1405.6 L1317.2,1425.6 L1319.6,1402.5 L1321.9,1377.8 L1325.0,1387.1 L1328.0,1394.8 L1331.1,1384.0 L1334.2,1373.2 L1336.2,1371.6 L1339.2,1371.6 L1341.6,1365.5 L1344.6,1353.1 L1347.7,1343.9 L1350.8,1345.4 L1353.9,1334.7 L1357.0,1325.4 L1360.1,1317.7 L1363.1,1317.7 L1366.2,1316.2 L1369.3,1325.4 L1372.4,1333.1 L1376.2,1342.4 L1379.3,1351.6 L1382.4,1367.0 L1383.9,1374.7 L1386.3,1368.6 L1388.6,1357.8 L1390.9,1371.6 L1394.7,1405.6 L1398.6,1417.9 L1401.7,1431.8 L1404.8,1447.2 L1407.8,1461.0 L1410.9,1471.1 L1448.7,1471.1 L1451.8,1459.5 L1454.1,1448.7 L1457.2,1444.1 L1460.3,1439.5 L1462.6,1447.2 L1465.6,1454.9 L1467.2,1433.3 L1469.5,1413.3 L1471.8,1400.9 L1474.1,1391.7 L1477.2,1394.8 L1480.3,1399.4 L1482.6,1388.6 L1485.7,1374.7 L1488.8,1362.4 L1491.8,1353.1 L1495.7,1356.2 L1498.0,1357.8 L1500.3,1339.3 L1503.4,1310.0 L1506.5,1325.4 L1508.8,1328.5 L1511.9,1331.6 L1515.0,1333.1 L1516.4,1333.1 L1518.7,1334.7 L1521.8,1328.5 L1524.1,1320.8 L1526.4,1331.6 L1528.7,1343.9 L1531.8,1353.1 L1534.9,1359.3 L1537.2,1367.0 L1538.7,1374.7 L1540.3,1384.0 L1542.6,1399.4 L1544.9,1414.8 L1548.0,1427.1 L1550.3,1436.4 L1553.4,1433.3 L1557.2,1430.2 L1559.5,1448.7 L1561.8,1464.1 L1563.4,1471.1 L1580.0,1471.1" fill="none" stroke="#1b3182" stroke-width="4.5" stroke-linejoin="round" stroke-linecap="round"/>
<path d="M62.0,1422.9 L66.2,1418.3 L70.8,1402.9 L74.6,1395.2 L78.5,1393.6 L81.6,1387.5 L85.4,1378.2 L89.3,1374.4 L93.1,1378.2 L97.0,1384.4 L100.1,1365.9 L103.2,1362.8 L107.8,1359.7 L112.4,1355.1 L115.5,1353.5 L119.3,1359.7 L121.7,1367.4 L124.7,1362.8 L127.8,1353.5 L130.9,1347.4 L134.0,1353.5 L138.6,1365.9 L143.2,1368.2 L147.9,1369.0 L152.5,1372.0 L156.3,1369.0 L160.2,1364.3 L164.0,1369.0 L167.9,1375.1 L171.8,1377.4 L174.8,1389.0 L178.7,1396.7 L183.3,1402.9 L187.9,1410.6 L194.1,1418.3 L198.7,1424.5 L204.9,1426.0 L211.1,1424.5 L215.7,1423.7 L220.3,1416.7 L224.9,1406.0 L231.1,1392.1 L237.3,1378.2 L241.9,1367.4 L246.5,1359.7 L252.7,1358.2 L260.0,1361.3 L263.1,1372.0 L265.4,1369.0 L267.7,1362.8 L270.8,1356.6 L273.1,1348.9 L276.2,1352.0 L279.3,1364.3 L281.6,1369.0 L284.7,1362.8 L287.8,1365.9 L290.9,1370.5 L293.9,1373.6 L297.0,1369.0 L300.9,1361.3 L303.2,1359.7 L306.3,1364.3 L309.4,1369.0 L312.4,1373.6 L315.5,1375.1 L318.6,1375.1 L321.7,1378.2 L325.5,1385.9 L329.4,1389.0 L332.5,1395.2 L335.6,1406.0 L340.2,1415.2 L346.4,1419.8 L351.0,1423.7 L357.1,1425.2 L363.3,1425.2 L367.9,1422.9 L371.8,1413.7 L375.6,1404.4 L378.7,1396.7 L383.4,1389.0 L386.4,1381.3 L390.3,1372.0 L394.1,1362.8 L398.8,1358.2 L403.4,1355.1 L408.0,1355.1 L411.1,1358.2 L415.7,1353.5 L420.3,1348.9 L425.0,1353.5 L429.6,1355.1 L434.2,1359.7 L436.2,1359.7 L439.2,1367.4 L442.3,1375.1 L445.4,1376.7 L448.5,1381.3 L453.1,1385.9 L456.2,1378.2 L460.1,1369.0 L463.1,1375.1 L466.2,1378.2 L470.1,1376.7 L473.9,1378.2 L477.8,1382.8 L482.4,1393.6 L485.5,1399.8 L490.1,1409.0 L494.7,1412.9 L500.9,1416.7 L505.5,1426.0 L511.7,1430.6 L516.3,1427.5 L520.9,1421.4 L525.6,1413.7 L530.2,1406.0 L534.8,1396.7 L539.4,1385.9 L544.1,1375.1 L548.7,1361.3 L553.3,1364.3 L557.9,1362.8 L562.6,1359.7 L567.2,1358.2 L571.8,1358.2 L576.4,1356.6 L580.3,1355.9 L583.4,1355.1 L586.5,1359.7 L590.3,1375.1 L593.4,1369.0 L596.5,1362.8 L599.6,1362.0 L602.6,1369.0 L605.7,1389.0 L608.8,1379.8 L611.9,1373.6 L615.0,1376.7 L616.2,1375.1 L618.5,1381.3 L621.6,1384.4 L625.4,1382.8 L628.5,1379.8 L631.6,1389.0 L634.7,1398.2 L637.7,1404.4 L642.4,1412.1 L648.5,1418.3 L656.2,1422.9 L662.4,1426.0 L667.0,1427.5 L671.7,1421.4 L676.3,1413.7 L680.9,1404.4 L685.5,1396.7 L690.2,1389.0 L694.0,1379.8 L697.1,1370.5 L700.9,1365.9 L705.6,1364.3 L710.2,1362.8 L714.8,1369.0 L717.9,1370.5 L721.0,1372.0 L724.1,1367.4 L727.1,1359.7 L731.8,1352.0 L734.9,1358.2 L737.9,1362.8 L742.6,1362.8 L746.4,1364.3 L750.3,1369.0 L754.1,1372.0 L758.0,1370.5 L762.6,1361.3 L765.7,1365.9 L769.5,1375.1 L772.6,1373.6 L775.7,1372.0 L779.6,1379.8 L783.4,1389.0 L786.5,1393.6 L789.6,1399.8 L793.4,1406.0 L796.2,1402.9 L799.2,1407.5 L803.9,1415.2 L808.5,1422.9 L814.7,1426.8 L820.8,1422.9 L827.0,1416.7 L830.8,1407.5 L833.9,1396.7 L837.8,1392.1 L842.4,1387.5 L846.3,1378.2 L850.1,1365.9 L853.2,1364.3 L856.3,1375.1 L858.6,1379.8 L860.9,1372.0 L864.0,1358.2 L867.1,1352.0 L870.2,1353.5 L874.0,1353.5 L877.1,1347.4 L880.9,1345.8 L884.8,1348.9 L888.7,1353.5 L891.7,1348.9 L894.8,1347.4 L897.9,1361.3 L901.0,1372.0 L904.1,1379.8 L907.1,1375.1 L910.2,1369.0 L913.3,1364.3 L916.4,1364.3 L919.5,1369.0 L922.6,1372.0 L927.2,1375.1 L930.3,1379.8 L932.6,1384.4 L935.7,1378.2 L938.7,1384.4 L941.8,1393.6 L945.7,1402.9 L950.3,1412.1 L954.9,1419.8 L961.1,1424.5 L967.3,1428.3 L973.4,1426.0 L976.2,1424.5 L979.2,1415.2 L982.3,1407.5 L985.4,1399.8 L989.3,1395.2 L993.1,1389.0 L996.2,1382.8 L998.5,1378.2 L1000.8,1369.0 L1003.9,1364.3 L1007.0,1365.9 L1009.3,1381.3 L1011.6,1369.0 L1014.7,1364.3 L1017.8,1362.8 L1022.4,1361.3 L1025.5,1362.8 L1028.6,1356.6 L1031.7,1358.2 L1034.7,1362.8 L1038.6,1364.3 L1042.4,1365.9 L1046.3,1365.9 L1049.4,1372.0 L1051.7,1375.1 L1054.8,1367.4 L1057.9,1364.3 L1060.9,1370.5 L1064.0,1372.0 L1067.1,1365.9 L1070.2,1369.0 L1073.3,1381.3 L1076.4,1389.0 L1079.4,1387.5 L1082.5,1392.1 L1085.6,1401.3 L1088.7,1393.6 L1091.8,1390.5 L1094.9,1396.7 L1097.9,1404.4 L1101.0,1415.2 L1105.6,1416.0 L1110.3,1418.3 L1114.9,1424.5 L1119.5,1429.1 L1124.1,1427.5 L1128.8,1422.9 L1133.4,1418.3 L1136.5,1409.0 L1139.6,1398.2 L1142.6,1392.1 L1145.7,1387.5 L1148.8,1378.2 L1151.9,1372.0 L1155.0,1364.3 L1156.2,1367.4 L1159.2,1362.8 L1163.9,1361.3 L1168.5,1356.6 L1173.1,1350.5 L1177.7,1347.4 L1182.4,1344.3 L1187.0,1342.8 L1190.1,1345.8 L1193.2,1347.4 L1196.2,1348.9 L1199.3,1348.9 L1202.4,1356.6 L1205.5,1362.8 L1208.6,1367.4 L1211.7,1372.0 L1216.3,1378.2 L1220.1,1385.9 L1222.4,1381.3 L1225.5,1375.1 L1228.6,1373.6 L1231.7,1376.7 L1234.8,1382.8 L1237.9,1390.5 L1240.9,1395.2 L1245.6,1395.2 L1248.7,1402.9 L1251.7,1409.0 L1256.4,1413.7 L1261.0,1416.7 L1265.6,1421.4 L1270.2,1424.5 L1274.9,1426.8 L1279.5,1426.0 L1282.6,1419.8 L1285.6,1412.1 L1290.3,1404.4 L1294.9,1396.7 L1299.5,1385.9 L1302.6,1375.1 L1305.7,1369.0 L1308.8,1370.5 L1311.8,1372.0 L1314.9,1373.6 L1318.0,1372.0 L1321.1,1369.0 L1324.2,1364.3 L1327.3,1358.2 L1330.3,1353.5 L1335.0,1350.5 L1336.2,1350.5 L1339.2,1353.5 L1342.3,1358.2 L1345.4,1362.8 L1347.7,1356.6 L1350.0,1350.5 L1352.4,1355.1 L1354.7,1375.1 L1357.7,1382.8 L1360.8,1385.1 L1363.9,1384.4 L1367.0,1381.3 L1370.1,1373.6 L1373.2,1378.2 L1376.2,1387.5 L1379.3,1390.5 L1382.4,1382.8 L1385.5,1381.3 L1388.6,1385.9 L1391.7,1387.5 L1394.7,1387.5 L1397.8,1393.6 L1400.9,1399.8 L1404.0,1404.4 L1407.1,1409.0 L1411.7,1415.2 L1416.3,1419.8 L1422.5,1423.7 L1428.7,1422.9 L1433.3,1416.7 L1437.9,1409.0 L1442.5,1399.8 L1447.1,1390.5 L1451.8,1381.3 L1454.9,1375.1 L1457.9,1367.4 L1461.0,1364.3 L1464.1,1369.0 L1467.2,1370.5 L1470.3,1369.0 L1473.4,1367.4 L1476.4,1364.3 L1479.5,1358.2 L1482.6,1355.1 L1485.7,1353.5 L1490.3,1350.5 L1493.4,1348.9 L1496.5,1355.1 L1499.6,1364.3 L1501.9,1372.0 L1504.2,1367.4 L1506.5,1353.5 L1508.8,1362.8 L1511.1,1378.2 L1513.4,1390.5 L1516.4,1390.5 L1519.5,1384.4 L1523.3,1375.1 L1527.9,1369.0 L1532.6,1369.0 L1536.4,1373.6 L1540.3,1378.2 L1542.6,1387.5 L1544.9,1393.6 L1548.0,1395.2 L1551.1,1398.2 L1554.1,1404.4 L1557.2,1409.0 L1561.8,1413.7 L1566.5,1418.3 L1571.1,1422.9 L1575.7,1426.0 L1580.0,1426.8" fill="none" stroke="#f2f76e" stroke-width="3" stroke-linejoin="round" stroke-linecap="round"/>
<path d="M62.0,1294.7 L69.2,1300.4 L74.6,1304.2 L78.5,1303.0 L83.1,1308.8 L87.7,1319.6 L91.6,1325.5 L95.5,1313.5 L97.0,1316.6 L99.3,1381.3 L102.4,1375.1 L105.5,1372.0 L109.3,1379.0 L113.2,1367.4 L118.6,1353.5 L123.2,1348.9 L127.8,1336.6 L130.9,1353.5 L134.8,1379.8 L136.3,1344.3 L140.2,1335.1 L144.0,1330.4 L147.9,1329.7 L151.7,1322.7 L154.8,1311.9 L158.7,1325.8 L161.0,1334.3 L166.4,1338.1 L169.4,1344.3 L172.2,1354.3 L174.8,1336.6 L177.1,1331.2 L180.2,1338.1 L183.3,1341.2 L187.2,1340.4 L191.0,1322.7 L195.6,1298.1 L199.5,1287.3 L202.6,1301.1 L205.7,1311.9 L208.7,1310.4 L212.6,1298.1 L215.7,1288.8 L219.5,1284.2 L222.6,1291.9 L225.7,1301.1 L231.1,1306.5 L237.3,1311.9 L241.9,1316.6 L245.0,1332.0 L248.1,1375.1 L251.1,1395.2 L254.2,1387.5 L257.7,1367.4 L260.8,1328.9 L263.1,1298.1 L265.4,1313.5 L267.7,1344.3 L270.8,1358.2 L273.9,1347.4 L277.0,1338.1 L280.8,1324.3 L284.7,1308.8 L289.3,1301.1 L293.2,1298.1 L297.0,1310.4 L300.9,1324.3 L304.7,1336.6 L307.8,1333.5 L311.7,1325.8 L314.0,1332.0 L317.1,1352.0 L319.4,1358.2 L321.7,1347.4 L324.8,1338.1 L329.4,1332.0 L333.3,1324.3 L335.6,1328.9 L338.7,1338.1 L341.0,1328.9 L343.3,1305.8 L346.4,1290.3 L351.0,1281.1 L354.8,1277.2 L358.7,1278.8 L362.5,1285.0 L366.4,1269.5 L370.3,1279.6 L374.1,1290.3 L378.0,1301.1 L381.0,1302.7 L383.4,1300.4 L386.4,1307.3 L390.3,1322.7 L394.1,1341.2 L397.2,1359.7 L399.5,1378.2 L401.1,1392.1 L403.4,1389.0 L406.5,1372.0 L409.6,1355.1 L413.4,1358.2 L415.7,1362.8 L418.8,1365.9 L421.9,1362.8 L425.0,1344.3 L428.1,1332.0 L431.1,1333.5 L434.2,1322.7 L436.2,1319.6 L438.5,1302.7 L441.6,1298.1 L445.4,1298.1 L448.5,1298.8 L451.6,1291.9 L454.7,1293.4 L457.7,1301.1 L460.8,1307.3 L463.9,1316.6 L467.0,1328.9 L470.1,1339.7 L473.9,1342.8 L477.0,1336.6 L480.1,1325.8 L483.2,1328.9 L487.0,1333.5 L490.1,1332.7 L493.2,1322.7 L496.3,1305.8 L498.6,1295.0 L502.4,1291.9 L505.5,1287.3 L508.6,1284.2 L513.2,1283.4 L516.3,1287.3 L518.6,1291.1 L520.9,1284.2 L525.6,1280.3 L529.4,1282.6 L533.3,1285.7 L537.1,1295.0 L539.4,1310.4 L542.5,1333.5 L544.8,1359.7 L547.1,1382.8 L548.7,1389.0 L551.8,1381.3 L554.1,1359.7 L556.4,1341.2 L560.3,1348.9 L564.1,1359.7 L568.0,1362.8 L571.8,1359.7 L574.9,1350.5 L578.0,1332.0 L580.3,1327.3 L584.1,1335.1 L587.2,1322.7 L590.3,1304.2 L593.4,1308.8 L596.5,1321.2 L599.6,1327.3 L602.6,1305.8 L605.7,1276.5 L608.8,1290.3 L611.9,1305.8 L616.2,1305.8 L619.2,1307.3 L622.3,1318.1 L625.4,1328.9 L628.5,1335.1 L631.6,1337.4 L634.7,1325.8 L637.7,1313.5 L640.8,1312.7 L643.9,1316.6 L647.8,1311.9 L651.6,1305.8 L654.7,1304.2 L657.8,1311.9 L660.9,1319.6 L663.9,1307.3 L667.8,1285.7 L670.9,1293.4 L674.0,1302.7 L677.1,1308.1 L680.9,1307.3 L684.0,1310.4 L687.1,1316.6 L690.2,1322.7 L693.2,1325.8 L695.5,1336.6 L697.9,1356.6 L700.2,1372.0 L702.5,1372.0 L704.8,1369.0 L707.9,1373.6 L711.0,1372.0 L714.0,1367.4 L716.4,1353.5 L719.4,1319.6 L723.3,1316.6 L726.4,1322.7 L729.5,1332.0 L731.8,1335.1 L734.9,1325.8 L737.9,1316.6 L741.0,1301.1 L743.3,1295.0 L745.6,1315.0 L748.7,1313.5 L751.8,1311.9 L754.9,1315.0 L758.0,1313.5 L761.1,1322.7 L764.1,1332.0 L768.8,1341.2 L773.4,1350.5 L776.5,1347.4 L779.6,1339.7 L783.4,1335.1 L786.5,1344.3 L789.6,1355.1 L793.4,1356.6 L796.2,1355.1 L799.2,1358.2 L802.3,1358.2 L805.4,1353.5 L808.5,1344.3 L811.6,1322.7 L814.7,1305.8 L817.7,1311.9 L820.8,1313.5 L823.9,1302.7 L827.8,1290.3 L830.8,1302.7 L833.2,1319.6 L836.2,1333.5 L839.3,1336.6 L842.4,1347.4 L845.5,1359.7 L848.6,1370.5 L851.7,1375.1 L854.7,1364.3 L857.8,1350.5 L860.9,1364.3 L864.0,1376.7 L867.1,1385.9 L870.2,1372.0 L873.2,1362.8 L875.5,1370.5 L877.9,1389.0 L880.9,1362.8 L884.0,1341.2 L887.1,1350.5 L890.2,1359.7 L893.3,1372.0 L896.4,1375.1 L899.4,1359.7 L902.5,1318.1 L904.8,1299.6 L907.1,1308.8 L910.2,1321.2 L913.3,1332.0 L916.4,1328.9 L920.3,1325.0 L923.3,1328.9 L926.4,1335.1 L929.5,1325.8 L932.6,1311.9 L935.7,1335.1 L937.2,1344.3 L940.3,1328.9 L942.6,1327.3 L944.9,1341.2 L947.2,1352.0 L950.3,1330.4 L953.4,1298.1 L956.5,1276.5 L960.3,1263.4 L963.4,1271.9 L966.5,1278.0 L970.3,1270.3 L973.4,1273.4 L976.2,1273.4 L979.2,1281.1 L982.3,1282.6 L985.4,1281.1 L988.5,1287.3 L991.6,1301.1 L993.9,1302.7 L997.0,1299.6 L999.3,1310.4 L1000.8,1325.8 L1002.4,1344.3 L1004.7,1365.9 L1007.8,1359.7 L1010.1,1358.2 L1012.4,1364.3 L1015.5,1353.5 L1019.3,1344.3 L1023.2,1338.1 L1025.5,1347.4 L1027.8,1359.7 L1030.9,1372.0 L1033.2,1370.5 L1036.3,1359.7 L1039.4,1325.8 L1041.7,1310.4 L1044.8,1313.5 L1048.6,1322.7 L1051.7,1322.7 L1054.8,1319.6 L1058.6,1322.7 L1062.5,1322.7 L1067.1,1315.0 L1071.7,1307.3 L1076.4,1305.8 L1079.4,1307.3 L1082.5,1304.2 L1085.6,1302.7 L1088.7,1315.0 L1091.8,1324.3 L1094.9,1327.3 L1097.9,1328.9 L1101.0,1322.7 L1104.1,1295.0 L1107.2,1279.6 L1110.3,1282.6 L1112.6,1287.3 L1115.7,1278.0 L1118.0,1271.9 L1121.1,1278.0 L1124.1,1284.2 L1127.2,1268.8 L1130.3,1273.4 L1133.4,1282.6 L1136.5,1293.4 L1139.6,1299.6 L1142.6,1295.0 L1146.5,1296.5 L1149.6,1301.1 L1151.9,1313.5 L1154.2,1344.3 L1156.2,1359.7 L1157.7,1382.8 L1159.2,1389.0 L1162.3,1390.5 L1164.6,1379.8 L1167.0,1376.7 L1170.0,1375.1 L1173.1,1373.6 L1176.2,1372.0 L1178.5,1376.7 L1180.8,1389.0 L1183.1,1392.1 L1186.2,1384.4 L1190.1,1378.2 L1193.9,1375.1 L1197.0,1381.3 L1199.3,1385.9 L1202.4,1369.0 L1205.5,1353.5 L1208.6,1344.3 L1211.7,1335.1 L1214.7,1322.7 L1217.8,1298.1 L1220.1,1283.4 L1222.4,1295.0 L1224.8,1310.4 L1227.1,1316.6 L1231.7,1320.4 L1235.5,1318.1 L1239.4,1316.6 L1242.5,1325.8 L1245.6,1335.1 L1247.9,1336.6 L1251.0,1328.9 L1254.0,1316.6 L1256.4,1298.1 L1259.4,1285.7 L1262.5,1281.9 L1265.6,1281.1 L1268.7,1281.1 L1273.3,1277.2 L1276.4,1271.9 L1278.7,1265.7 L1281.8,1274.9 L1284.9,1285.7 L1288.7,1290.3 L1292.6,1295.0 L1296.4,1301.1 L1300.3,1307.3 L1302.6,1316.6 L1304.9,1335.1 L1306.5,1355.1 L1308.0,1370.5 L1310.3,1372.0 L1313.4,1362.8 L1316.5,1365.9 L1318.8,1365.9 L1321.9,1359.7 L1324.2,1365.9 L1326.5,1378.2 L1328.8,1384.4 L1331.9,1378.2 L1335.0,1373.6 L1336.2,1372.0 L1338.5,1372.0 L1340.8,1367.4 L1343.1,1355.1 L1345.4,1344.3 L1347.7,1339.7 L1350.8,1344.3 L1353.1,1328.9 L1355.4,1304.2 L1357.7,1287.3 L1360.8,1278.0 L1363.9,1282.6 L1367.0,1285.7 L1370.1,1295.0 L1373.2,1291.9 L1376.2,1284.2 L1379.3,1290.3 L1382.4,1311.9 L1385.5,1307.3 L1389.3,1281.1 L1391.7,1295.0 L1394.7,1316.6 L1397.8,1332.0 L1400.9,1344.3 L1404.8,1352.0 L1407.8,1348.9 L1410.2,1347.4 L1413.2,1350.5 L1416.3,1347.4 L1419.4,1335.1 L1422.5,1325.8 L1425.6,1327.3 L1428.7,1330.4 L1431.7,1335.1 L1434.8,1344.3 L1437.9,1353.5 L1441.0,1361.3 L1444.1,1369.0 L1447.1,1373.6 L1450.2,1375.1 L1453.3,1376.7 L1456.4,1382.8 L1459.5,1387.5 L1462.6,1384.4 L1465.6,1381.3 L1468.7,1384.4 L1471.8,1378.2 L1474.1,1375.1 L1476.4,1378.2 L1479.5,1385.9 L1482.6,1381.3 L1485.7,1372.0 L1488.8,1365.9 L1491.8,1361.3 L1494.9,1359.7 L1497.2,1356.6 L1499.6,1335.1 L1501.9,1322.7 L1504.2,1316.6 L1506.5,1335.1 L1508.8,1316.6 L1511.1,1287.3 L1515.0,1279.6 L1516.4,1278.0 L1520.2,1278.0 L1523.3,1282.6 L1525.6,1298.1 L1527.9,1310.4 L1530.3,1321.2 L1533.3,1322.7 L1535.6,1324.3 L1538.0,1335.1 L1540.3,1353.5 L1542.6,1344.3 L1544.9,1336.6 L1548.0,1347.4 L1550.3,1358.2 L1552.6,1344.3 L1554.9,1328.9 L1557.2,1320.4 L1560.3,1327.3 L1561.8,1330.4 L1564.2,1321.2 L1566.5,1308.8 L1569.6,1296.5 L1573.4,1288.8 L1576.5,1296.5 L1580.0,1307.3" fill="none" stroke="#63196e" stroke-width="3" stroke-linejoin="round" stroke-linecap="round"/>
<path d="M103.9,1471.5 L106.2,1459.9 L110.9,1447.6 L117.0,1438.3 L121.7,1432.2 L127.8,1421.4 L130.9,1412.1 L133.7,1402.1 L135.5,1407.5 L137.8,1415.2 L140.2,1409.0 L143.2,1410.6 L146.3,1421.4 L150.9,1432.2 L155.6,1430.6 L160.2,1424.5 L163.3,1429.1 L166.4,1438.3 L171.0,1450.7 L174.8,1453.7 L178.7,1463.0 L181.8,1471.5 L184.8,1496.6 L244.3,1496.6 L247.3,1471.5 L251.1,1459.9 L255.8,1453.7 L258.5,1456.8 L262.4,1466.1 L264.7,1455.3 L267.7,1444.5 L270.8,1436.8 L273.9,1430.6 L277.8,1422.9 L281.6,1419.8 L284.7,1424.5 L287.8,1430.6 L290.9,1424.5 L294.7,1418.3 L299.3,1417.5 L303.2,1418.3 L307.1,1421.4 L310.9,1430.6 L314.8,1439.9 L318.6,1447.6 L323.2,1450.7 L326.3,1452.2 L329.4,1458.4 L333.3,1464.5 L337.1,1471.5 L340.1,1496.6 L396.5,1496.6 L399.5,1471.5 L403.4,1464.5 L408.0,1463.0 L411.1,1455.3 L414.2,1444.5 L417.3,1439.9 L421.1,1444.5 L425.0,1441.4 L428.1,1432.2 L431.9,1424.5 L435.8,1429.1 L439.2,1425.2 L442.3,1421.4 L445.4,1422.9 L449.3,1427.5 L453.1,1426.0 L457.0,1430.6 L460.8,1433.7 L465.5,1435.2 L470.1,1439.9 L474.7,1447.6 L477.8,1455.3 L480.9,1463.0 L483.9,1471.5 L486.9,1496.6 L556.5,1496.6 L559.5,1471.5 L561.8,1461.4 L564.1,1447.6 L567.2,1439.9 L571.8,1436.8 L576.4,1439.9 L580.3,1438.3 L584.1,1427.5 L587.2,1427.5 L590.3,1431.4 L593.4,1424.5 L597.2,1421.4 L601.1,1422.9 L604.2,1424.5 L608.8,1427.5 L613.4,1430.6 L616.2,1432.2 L619.2,1436.8 L622.3,1444.5 L625.4,1449.1 L629.3,1452.2 L632.4,1461.4 L634.7,1471.5 L637.7,1496.6 L694.9,1496.6 L697.9,1471.5 L700.9,1461.4 L704.0,1453.7 L707.9,1449.1 L711.7,1452.2 L716.4,1456.8 L719.4,1461.4 L722.5,1455.3 L727.1,1441.4 L731.8,1430.6 L736.4,1427.5 L741.0,1426.0 L745.6,1422.9 L750.3,1421.4 L754.1,1421.4 L758.0,1427.5 L762.6,1424.5 L767.2,1426.0 L771.8,1433.7 L776.5,1443.0 L779.6,1452.2 L782.6,1458.4 L787.3,1458.4 L790.3,1463.0 L793.4,1471.5 L798.5,1471.5 L801.5,1496.6 L851.7,1496.6 L854.7,1471.5 L859.4,1464.5 L862.4,1458.4 L865.5,1449.1 L868.6,1452.2 L871.7,1456.8 L874.8,1446.0 L877.9,1438.3 L880.9,1439.9 L884.0,1436.8 L887.1,1427.5 L890.2,1419.8 L894.0,1416.7 L897.9,1413.7 L901.0,1418.3 L904.8,1419.8 L910.2,1419.8 L914.9,1420.6 L920.3,1421.4 L924.1,1429.1 L927.2,1438.3 L930.3,1449.1 L933.4,1458.4 L936.4,1453.7 L939.5,1461.4 L942.6,1471.5 L945.6,1496.6 L1000.9,1496.6 L1003.9,1471.5 L1007.0,1466.1 L1011.6,1464.5 L1016.2,1459.9 L1020.9,1455.3 L1024.7,1449.1 L1028.6,1439.9 L1031.7,1433.7 L1034.7,1430.6 L1037.8,1429.1 L1042.4,1430.6 L1045.5,1427.5 L1047.8,1421.4 L1050.2,1415.2 L1053.2,1413.7 L1056.3,1415.2 L1059.4,1412.1 L1062.5,1410.6 L1065.6,1418.3 L1068.7,1427.5 L1071.7,1432.2 L1076.4,1435.2 L1079.4,1438.3 L1082.5,1444.5 L1085.6,1452.2 L1088.7,1461.4 L1091.8,1471.5 L1094.8,1496.6 L1156.2,1496.6 L1159.2,1471.5 L1162.3,1463.0 L1165.4,1456.8 L1167.7,1459.9 L1170.0,1456.8 L1173.1,1449.1 L1176.2,1443.0 L1179.3,1436.8 L1182.4,1430.6 L1185.5,1426.0 L1188.5,1427.5 L1191.6,1424.5 L1194.7,1419.8 L1197.0,1410.6 L1199.0,1399.8 L1200.9,1401.3 L1203.2,1412.1 L1207.0,1415.2 L1210.9,1416.7 L1214.0,1419.8 L1217.1,1422.9 L1220.9,1429.1 L1224.0,1433.7 L1227.1,1436.8 L1230.2,1439.9 L1233.2,1446.0 L1236.3,1453.7 L1239.4,1464.5 L1242.5,1471.5 L1245.6,1466.1 L1249.4,1471.5 L1252.4,1496.6 L1304.2,1496.6 L1307.2,1471.5 L1310.3,1463.0 L1312.6,1455.3 L1315.7,1464.5 L1318.0,1471.5 L1321.1,1449.1 L1324.2,1443.0 L1328.8,1439.9 L1333.4,1433.7 L1336.2,1436.8 L1339.2,1432.2 L1342.3,1427.5 L1345.4,1422.9 L1348.5,1419.8 L1351.6,1417.5 L1353.9,1426.0 L1356.2,1424.5 L1360.1,1421.4 L1363.9,1419.8 L1367.8,1419.8 L1370.8,1421.4 L1373.9,1426.0 L1377.0,1433.7 L1380.1,1441.4 L1383.2,1449.1 L1386.3,1455.3 L1390.1,1459.9 L1393.2,1461.4 L1396.3,1463.0 L1399.4,1466.1 L1402.4,1471.5 L1405.4,1496.6 L1464.2,1496.6 L1467.2,1471.5 L1469.5,1464.5 L1472.6,1458.4 L1476.4,1453.7 L1481.1,1449.1 L1485.7,1443.0 L1489.5,1436.8 L1492.6,1430.6 L1495.7,1421.4 L1498.8,1416.7 L1501.1,1421.4 L1503.4,1427.5 L1506.5,1416.7 L1508.8,1416.7 L1511.9,1419.8 L1515.7,1422.9 L1520.2,1427.5 L1523.3,1433.7 L1527.2,1430.6 L1531.0,1435.2 L1534.9,1438.3 L1537.2,1433.7 L1540.3,1429.1 L1542.6,1439.9 L1544.9,1455.3 L1548.0,1466.1 L1551.1,1467.6 L1554.1,1465.3 L1557.2,1467.6 L1560.3,1471.5" fill="none" stroke="#78ecf0" stroke-width="3" stroke-linejoin="round" stroke-linecap="round" clip-path="url(#clip3)"/>
<text x="821.0" y="1548.9" font-size="25" text-anchor="middle" fill="#333" stroke="#333" stroke-width="0.4" font-weight="normal" >date (year beginning)</text>
<text x="1644" y="1281.3" font-size="24.5" fill="#161616" stroke="#161616" stroke-width="0.4">(L/d/m<tspan font-size="16" dy="-10.5">2</tspan><tspan dy="10.5">),</tspan></text>
<text x="1644" y="1312.5" font-size="24.5" fill="#161616" stroke="#161616" stroke-width="0.4">(°C/10),</text>
<text x="1644" y="1343.7" font-size="24.5" fill="#161616" stroke="#161616" stroke-width="0.4">(%/10),</text>
<text x="1644" y="1374.9" font-size="24.5" fill="#161616" stroke="#161616" stroke-width="0.4">(W/m<tspan font-size="16" dy="-10.5">2</tspan><tspan dy="10.5">/100)</tspan></text>
</svg></body></html>
